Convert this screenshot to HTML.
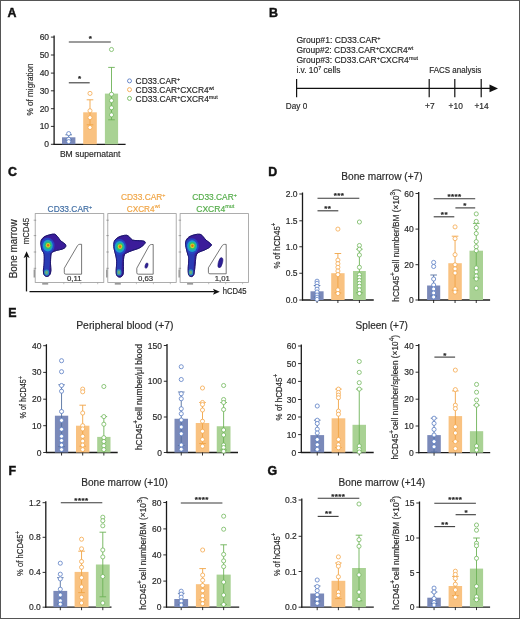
<!DOCTYPE html><html><head><meta charset="utf-8"><style>html,body{margin:0;padding:0;background:#fff;}svg{display:block;will-change:transform;}</style></head><body><svg width="520" height="619" viewBox="0 0 520 619" font-family='"Liberation Sans", sans-serif'>
<rect x="0" y="0" width="520" height="619" fill="#fff"/>
<text x="7.40" y="17.20" font-size="12.4" text-anchor="start" fill="#111" font-weight="bold" stroke="#111" stroke-width="0.45">A</text>
<text x="269.00" y="17.40" font-size="12.4" text-anchor="start" fill="#111" font-weight="bold" stroke="#111" stroke-width="0.45">B</text>
<text x="8.00" y="175.80" font-size="12.4" text-anchor="start" fill="#111" font-weight="bold" stroke="#111" stroke-width="0.45">C</text>
<text x="268.30" y="175.90" font-size="12.4" text-anchor="start" fill="#111" font-weight="bold" stroke="#111" stroke-width="0.45">D</text>
<text x="8.20" y="317.30" font-size="12.4" text-anchor="start" fill="#111" font-weight="bold" stroke="#111" stroke-width="0.45">E</text>
<text x="8.60" y="474.60" font-size="12.4" text-anchor="start" fill="#111" font-weight="bold" stroke="#111" stroke-width="0.45">F</text>
<text x="267.60" y="474.90" font-size="12.4" text-anchor="start" fill="#111" font-weight="bold" stroke="#111" stroke-width="0.45">G</text>
<line x1="54.10" y1="35.60" x2="54.10" y2="144.80" stroke="#1a1a1a" stroke-width="1.3"/>
<line x1="53.60" y1="144.30" x2="125.60" y2="144.30" stroke="#1a1a1a" stroke-width="1.3"/>
<line x1="50.90" y1="37.10" x2="54.10" y2="37.10" stroke="#1a1a1a" stroke-width="0.9"/>
<text x="49.10" y="40.15" font-size="8.5" text-anchor="end" fill="#2a2a2a" font-weight="normal" stroke="#2a2a2a" stroke-width="0.18" >60</text>
<line x1="50.90" y1="55.00" x2="54.10" y2="55.00" stroke="#1a1a1a" stroke-width="0.9"/>
<text x="49.10" y="58.05" font-size="8.5" text-anchor="end" fill="#2a2a2a" font-weight="normal" stroke="#2a2a2a" stroke-width="0.18" >50</text>
<line x1="50.90" y1="73.10" x2="54.10" y2="73.10" stroke="#1a1a1a" stroke-width="0.9"/>
<text x="49.10" y="76.15" font-size="8.5" text-anchor="end" fill="#2a2a2a" font-weight="normal" stroke="#2a2a2a" stroke-width="0.18" >40</text>
<line x1="50.90" y1="90.80" x2="54.10" y2="90.80" stroke="#1a1a1a" stroke-width="0.9"/>
<text x="49.10" y="93.85" font-size="8.5" text-anchor="end" fill="#2a2a2a" font-weight="normal" stroke="#2a2a2a" stroke-width="0.18" >30</text>
<line x1="50.90" y1="108.70" x2="54.10" y2="108.70" stroke="#1a1a1a" stroke-width="0.9"/>
<text x="49.10" y="111.75" font-size="8.5" text-anchor="end" fill="#2a2a2a" font-weight="normal" stroke="#2a2a2a" stroke-width="0.18" >20</text>
<line x1="50.90" y1="126.40" x2="54.10" y2="126.40" stroke="#1a1a1a" stroke-width="0.9"/>
<text x="49.10" y="129.45" font-size="8.5" text-anchor="end" fill="#2a2a2a" font-weight="normal" stroke="#2a2a2a" stroke-width="0.18" >10</text>
<line x1="50.90" y1="144.30" x2="54.10" y2="144.30" stroke="#1a1a1a" stroke-width="0.9"/>
<text x="49.10" y="147.35" font-size="8.5" text-anchor="end" fill="#2a2a2a" font-weight="normal" stroke="#2a2a2a" stroke-width="0.18" >0</text>
<rect x="62.00" y="137.30" width="13.40" height="7.00" fill="#7a89b9"/>
<line x1="68.70" y1="134.80" x2="68.70" y2="139.80" stroke="#55719f" stroke-width="0.9"/>
<line x1="65.40" y1="134.80" x2="72.00" y2="134.80" stroke="#55719f" stroke-width="0.9"/>
<line x1="65.40" y1="139.80" x2="72.00" y2="139.80" stroke="#55719f" stroke-width="0.9"/>
<circle cx="68.70" cy="133.60" r="2.05" fill="#fff" stroke="#5b7dc4" stroke-width="0.8"/>
<circle cx="68.70" cy="139.20" r="2.05" fill="#fff" stroke="#5b7dc4" stroke-width="0.8"/>
<circle cx="68.70" cy="141.60" r="2.05" fill="#fff" stroke="#5b7dc4" stroke-width="0.8"/>
<rect x="83.20" y="112.30" width="13.60" height="32.00" fill="#f9c281"/>
<line x1="90.00" y1="99.80" x2="90.00" y2="124.80" stroke="#f0a445" stroke-width="0.9"/>
<line x1="86.70" y1="99.80" x2="93.30" y2="99.80" stroke="#f0a445" stroke-width="0.9"/>
<line x1="86.70" y1="124.80" x2="93.30" y2="124.80" stroke="#f0a445" stroke-width="0.9"/>
<circle cx="90.00" cy="93.40" r="2.05" fill="#fff" stroke="#f5a84d" stroke-width="0.8"/>
<circle cx="90.00" cy="110.80" r="2.05" fill="#fff" stroke="#f5a84d" stroke-width="0.8"/>
<circle cx="90.00" cy="117.60" r="2.05" fill="#fff" stroke="#f5a84d" stroke-width="0.8"/>
<circle cx="90.00" cy="127.50" r="2.05" fill="#fff" stroke="#f5a84d" stroke-width="0.8"/>
<rect x="104.90" y="93.60" width="13.20" height="50.70" fill="#a9d294"/>
<line x1="111.50" y1="67.40" x2="111.50" y2="119.80" stroke="#6db257" stroke-width="0.9"/>
<line x1="108.20" y1="67.40" x2="114.80" y2="67.40" stroke="#6db257" stroke-width="0.9"/>
<line x1="108.20" y1="119.80" x2="114.80" y2="119.80" stroke="#6db257" stroke-width="0.9"/>
<circle cx="111.50" cy="49.50" r="2.05" fill="#fff" stroke="#72b85d" stroke-width="0.8"/>
<circle cx="111.50" cy="94.20" r="2.05" fill="#fff" stroke="#72b85d" stroke-width="0.8"/>
<circle cx="111.50" cy="100.60" r="2.05" fill="#fff" stroke="#72b85d" stroke-width="0.8"/>
<circle cx="111.50" cy="107.80" r="2.05" fill="#fff" stroke="#72b85d" stroke-width="0.8"/>
<circle cx="111.50" cy="114.90" r="2.05" fill="#fff" stroke="#72b85d" stroke-width="0.8"/>
<line x1="68.80" y1="42.00" x2="110.80" y2="42.00" stroke="#3a3a3a" stroke-width="1.1"/>
<text x="90.30" y="41.00" font-size="8.0" text-anchor="middle" fill="#222" font-weight="bold" stroke="#222" stroke-width="0.18" >*</text>
<line x1="68.80" y1="82.80" x2="89.70" y2="82.80" stroke="#3a3a3a" stroke-width="1.1"/>
<text x="79.50" y="81.30" font-size="8.0" text-anchor="middle" fill="#222" font-weight="bold" stroke="#222" stroke-width="0.18" >*</text>
<text transform="translate(32.50,89.50) rotate(-90)" x="0" y="0" font-size="9.4" text-anchor="middle" fill="#2a2a2a" stroke="#2a2a2a" stroke-width="0.18" textLength="52.2" lengthAdjust="spacingAndGlyphs">% of migration</text>
<text x="59.90" y="156.80" font-size="9.4" text-anchor="start" fill="#2a2a2a" font-weight="normal" textLength="60.5" lengthAdjust="spacingAndGlyphs" stroke="#2a2a2a" stroke-width="0.18" >BM supernatant</text>
<circle cx="129.5" cy="80.90" r="2" fill="#fff" stroke="#5b7dc4" stroke-width="0.9"/>
<text x="135.60" y="84.10" font-size="9.0" text-anchor="start" fill="#2a2a2a" font-weight="normal" textLength="44.6" lengthAdjust="spacingAndGlyphs" stroke="#2a2a2a" stroke-width="0.18" >CD33.CAR<tspan font-size="5.76" dy="-2.97">+</tspan></text>
<circle cx="129.5" cy="89.65" r="2" fill="#fff" stroke="#f5a84d" stroke-width="0.9"/>
<text x="135.60" y="92.85" font-size="9.0" text-anchor="start" fill="#2a2a2a" font-weight="normal" textLength="78.4" lengthAdjust="spacingAndGlyphs" stroke="#2a2a2a" stroke-width="0.18" >CD33.CAR<tspan font-size="5.76" dy="-2.97">+</tspan><tspan dy="2.97">CXCR4</tspan><tspan font-size="5.76" dy="-2.97">wt</tspan></text>
<circle cx="129.5" cy="98.40" r="2" fill="#fff" stroke="#72b85d" stroke-width="0.9"/>
<text x="135.60" y="101.60" font-size="9.0" text-anchor="start" fill="#2a2a2a" font-weight="normal" textLength="82.2" lengthAdjust="spacingAndGlyphs" stroke="#2a2a2a" stroke-width="0.18" >CD33.CAR<tspan font-size="5.76" dy="-2.97">+</tspan><tspan dy="2.97">CXCR4</tspan><tspan font-size="5.76" dy="-2.97">mut</tspan></text>
<text x="296.40" y="42.80" font-size="9.1" text-anchor="start" fill="#2a2a2a" font-weight="normal" textLength="84.2" lengthAdjust="spacingAndGlyphs" stroke="#2a2a2a" stroke-width="0.18" >Group#1: CD33.CAR<tspan font-size="5.82" dy="-3.00">+</tspan></text>
<text x="296.40" y="52.70" font-size="9.1" text-anchor="start" fill="#2a2a2a" font-weight="normal" textLength="116.8" lengthAdjust="spacingAndGlyphs" stroke="#2a2a2a" stroke-width="0.18" >Group#2: CD33.CAR<tspan font-size="5.82" dy="-3.00">+</tspan><tspan dy="3.00">CXCR4</tspan><tspan font-size="5.82" dy="-3.00">wt</tspan></text>
<text x="296.40" y="62.70" font-size="9.1" text-anchor="start" fill="#2a2a2a" font-weight="normal" textLength="121.6" lengthAdjust="spacingAndGlyphs" stroke="#2a2a2a" stroke-width="0.18" >Group#3: CD33.CAR<tspan font-size="5.82" dy="-3.00">+</tspan><tspan dy="3.00">CXCR4</tspan><tspan font-size="5.82" dy="-3.00">mut</tspan></text>
<text x="296.40" y="72.60" font-size="9.1" text-anchor="start" fill="#2a2a2a" font-weight="normal" textLength="44.0" lengthAdjust="spacingAndGlyphs" stroke="#2a2a2a" stroke-width="0.18" >i.v. 10<tspan font-size="5.82" dy="-3.00">7</tspan><tspan dy="3.00"> cells</tspan></text>
<text x="429.20" y="73.30" font-size="9.0" text-anchor="start" fill="#2a2a2a" font-weight="normal" textLength="52" lengthAdjust="spacingAndGlyphs" stroke="#2a2a2a" stroke-width="0.18" >FACS analysis</text>
<line x1="296.60" y1="88.40" x2="493.00" y2="88.40" stroke="#111" stroke-width="1.2"/>
<path d="M489.5,84.6 L498,88.4 L489.5,92.2 Z" fill="#111"/>
<line x1="296.60" y1="79.00" x2="296.60" y2="97.30" stroke="#111" stroke-width="1.2"/>
<line x1="429.20" y1="79.00" x2="429.20" y2="97.30" stroke="#111" stroke-width="1.2"/>
<line x1="454.80" y1="79.00" x2="454.80" y2="97.30" stroke="#111" stroke-width="1.2"/>
<line x1="481.20" y1="79.00" x2="481.20" y2="97.30" stroke="#111" stroke-width="1.2"/>
<text x="285.80" y="108.90" font-size="8.4" text-anchor="start" fill="#2a2a2a" font-weight="normal" textLength="21.4" lengthAdjust="spacingAndGlyphs" stroke="#2a2a2a" stroke-width="0.18" >Day 0</text>
<text x="429.80" y="108.60" font-size="8.4" text-anchor="middle" fill="#2a2a2a" font-weight="normal" stroke="#2a2a2a" stroke-width="0.18" >+7</text>
<text x="455.70" y="108.60" font-size="8.4" text-anchor="middle" fill="#2a2a2a" font-weight="normal" stroke="#2a2a2a" stroke-width="0.18" >+10</text>
<text x="481.50" y="108.60" font-size="8.4" text-anchor="middle" fill="#2a2a2a" font-weight="normal" stroke="#2a2a2a" stroke-width="0.18" >+14</text>
<text x="341.30" y="180.00" font-size="10.5" text-anchor="start" fill="#2a2a2a" font-weight="normal" textLength="81.3" lengthAdjust="spacingAndGlyphs" stroke="#2a2a2a" stroke-width="0.18" >Bone marrow (+7)</text>
<line x1="302.50" y1="192.50" x2="302.50" y2="300.50" stroke="#1a1a1a" stroke-width="1.3"/>
<line x1="302.00" y1="300.00" x2="373.75" y2="300.00" stroke="#1a1a1a" stroke-width="1.3"/>
<line x1="299.30" y1="194.00" x2="302.50" y2="194.00" stroke="#1a1a1a" stroke-width="0.9"/>
<text x="297.50" y="197.05" font-size="8.5" text-anchor="end" fill="#2a2a2a" font-weight="normal" stroke="#2a2a2a" stroke-width="0.18" >2.0</text>
<line x1="299.30" y1="220.80" x2="302.50" y2="220.80" stroke="#1a1a1a" stroke-width="0.9"/>
<text x="297.50" y="223.85" font-size="8.5" text-anchor="end" fill="#2a2a2a" font-weight="normal" stroke="#2a2a2a" stroke-width="0.18" >1.5</text>
<line x1="299.30" y1="246.75" x2="302.50" y2="246.75" stroke="#1a1a1a" stroke-width="0.9"/>
<text x="297.50" y="249.80" font-size="8.5" text-anchor="end" fill="#2a2a2a" font-weight="normal" stroke="#2a2a2a" stroke-width="0.18" >1.0</text>
<line x1="299.30" y1="273.25" x2="302.50" y2="273.25" stroke="#1a1a1a" stroke-width="0.9"/>
<text x="297.50" y="276.30" font-size="8.5" text-anchor="end" fill="#2a2a2a" font-weight="normal" stroke="#2a2a2a" stroke-width="0.18" >0.5</text>
<line x1="299.30" y1="300.00" x2="302.50" y2="300.00" stroke="#1a1a1a" stroke-width="0.9"/>
<text x="297.50" y="303.05" font-size="8.5" text-anchor="end" fill="#2a2a2a" font-weight="normal" stroke="#2a2a2a" stroke-width="0.18" >0.0</text>
<rect x="310.50" y="291.30" width="13.10" height="8.70" fill="#7a89b9"/>
<line x1="317.05" y1="300.00" x2="317.05" y2="303.00" stroke="#1a1a1a" stroke-width="0.9"/>
<line x1="317.05" y1="285.50" x2="317.05" y2="297.10" stroke="#55719f" stroke-width="0.9"/>
<line x1="313.75" y1="285.50" x2="320.35" y2="285.50" stroke="#55719f" stroke-width="0.9"/>
<line x1="313.75" y1="297.10" x2="320.35" y2="297.10" stroke="#55719f" stroke-width="0.9"/>
<circle cx="317.05" cy="281.20" r="2.05" fill="#fff" stroke="#5b7dc4" stroke-width="0.8"/>
<circle cx="317.05" cy="283.30" r="2.05" fill="#fff" stroke="#5b7dc4" stroke-width="0.8"/>
<circle cx="317.05" cy="286.30" r="2.05" fill="#fff" stroke="#5b7dc4" stroke-width="0.8"/>
<circle cx="317.05" cy="289.20" r="2.05" fill="#fff" stroke="#5b7dc4" stroke-width="0.8"/>
<circle cx="317.05" cy="292.00" r="2.05" fill="#fff" stroke="#5b7dc4" stroke-width="0.8"/>
<circle cx="317.05" cy="295.00" r="2.05" fill="#fff" stroke="#5b7dc4" stroke-width="0.8"/>
<circle cx="317.05" cy="297.20" r="2.05" fill="#fff" stroke="#5b7dc4" stroke-width="0.8"/>
<circle cx="317.05" cy="299.30" r="2.05" fill="#fff" stroke="#5b7dc4" stroke-width="0.8"/>
<rect x="331.20" y="273.20" width="13.40" height="26.80" fill="#f9c281"/>
<line x1="337.90" y1="300.00" x2="337.90" y2="303.00" stroke="#1a1a1a" stroke-width="0.9"/>
<line x1="337.90" y1="253.50" x2="337.90" y2="292.90" stroke="#f0a445" stroke-width="0.9"/>
<line x1="334.60" y1="253.50" x2="341.20" y2="253.50" stroke="#f0a445" stroke-width="0.9"/>
<line x1="334.60" y1="292.90" x2="341.20" y2="292.90" stroke="#f0a445" stroke-width="0.9"/>
<circle cx="337.90" cy="229.10" r="2.05" fill="#fff" stroke="#f5a84d" stroke-width="0.8"/>
<circle cx="337.90" cy="260.10" r="2.05" fill="#fff" stroke="#f5a84d" stroke-width="0.8"/>
<circle cx="337.90" cy="263.70" r="2.05" fill="#fff" stroke="#f5a84d" stroke-width="0.8"/>
<circle cx="337.90" cy="267.30" r="2.05" fill="#fff" stroke="#f5a84d" stroke-width="0.8"/>
<circle cx="337.90" cy="271.00" r="2.05" fill="#fff" stroke="#f5a84d" stroke-width="0.8"/>
<circle cx="337.90" cy="274.60" r="2.05" fill="#fff" stroke="#f5a84d" stroke-width="0.8"/>
<circle cx="337.90" cy="289.90" r="2.05" fill="#fff" stroke="#f5a84d" stroke-width="0.8"/>
<circle cx="337.90" cy="293.50" r="2.05" fill="#fff" stroke="#f5a84d" stroke-width="0.8"/>
<rect x="353.00" y="271.00" width="12.80" height="29.00" fill="#a9d294"/>
<line x1="359.40" y1="300.00" x2="359.40" y2="303.00" stroke="#1a1a1a" stroke-width="0.9"/>
<line x1="359.40" y1="249.20" x2="359.40" y2="292.80" stroke="#6db257" stroke-width="0.9"/>
<line x1="356.10" y1="249.20" x2="362.70" y2="249.20" stroke="#6db257" stroke-width="0.9"/>
<line x1="356.10" y1="292.80" x2="362.70" y2="292.80" stroke="#6db257" stroke-width="0.9"/>
<circle cx="359.40" cy="222.00" r="2.05" fill="#fff" stroke="#72b85d" stroke-width="0.8"/>
<circle cx="359.40" cy="245.50" r="2.05" fill="#fff" stroke="#72b85d" stroke-width="0.8"/>
<circle cx="359.40" cy="249.20" r="2.05" fill="#fff" stroke="#72b85d" stroke-width="0.8"/>
<circle cx="359.40" cy="255.00" r="2.05" fill="#fff" stroke="#72b85d" stroke-width="0.8"/>
<circle cx="359.40" cy="267.30" r="2.05" fill="#fff" stroke="#72b85d" stroke-width="0.8"/>
<circle cx="359.40" cy="274.60" r="2.05" fill="#fff" stroke="#72b85d" stroke-width="0.8"/>
<circle cx="359.40" cy="277.50" r="2.05" fill="#fff" stroke="#72b85d" stroke-width="0.8"/>
<circle cx="359.40" cy="280.40" r="2.05" fill="#fff" stroke="#72b85d" stroke-width="0.8"/>
<circle cx="359.40" cy="283.30" r="2.05" fill="#fff" stroke="#72b85d" stroke-width="0.8"/>
<circle cx="359.40" cy="286.30" r="2.05" fill="#fff" stroke="#72b85d" stroke-width="0.8"/>
<circle cx="359.40" cy="289.90" r="2.05" fill="#fff" stroke="#72b85d" stroke-width="0.8"/>
<circle cx="359.40" cy="293.50" r="2.05" fill="#fff" stroke="#72b85d" stroke-width="0.8"/>
<line x1="317.50" y1="198.30" x2="359.30" y2="198.30" stroke="#3a3a3a" stroke-width="1.1"/>
<text x="335.25" y="198.20" font-size="8.0" text-anchor="middle" fill="#222" font-weight="bold" stroke="#222" stroke-width="0.18" >*</text>
<text x="338.80" y="198.20" font-size="8.0" text-anchor="middle" fill="#222" font-weight="bold" stroke="#222" stroke-width="0.18" >*</text>
<text x="342.35" y="198.20" font-size="8.0" text-anchor="middle" fill="#222" font-weight="bold" stroke="#222" stroke-width="0.18" >*</text>
<line x1="317.50" y1="210.80" x2="338.30" y2="210.80" stroke="#3a3a3a" stroke-width="1.1"/>
<text x="325.73" y="210.70" font-size="8.0" text-anchor="middle" fill="#222" font-weight="bold" stroke="#222" stroke-width="0.18" >*</text>
<text x="329.27" y="210.70" font-size="8.0" text-anchor="middle" fill="#222" font-weight="bold" stroke="#222" stroke-width="0.18" >*</text>
<text transform="translate(280.00,245.60) rotate(-90)" x="0" y="0" font-size="9.2" text-anchor="middle" fill="#2a2a2a" stroke="#2a2a2a" stroke-width="0.18" textLength="46.0" lengthAdjust="spacingAndGlyphs">% of hCD45<tspan font-size="7.18" dy="-3.68">+</tspan></text>
<line x1="418.70" y1="192.00" x2="418.70" y2="300.50" stroke="#1a1a1a" stroke-width="1.3"/>
<line x1="418.20" y1="300.00" x2="490.10" y2="300.00" stroke="#1a1a1a" stroke-width="1.3"/>
<line x1="415.50" y1="193.50" x2="418.70" y2="193.50" stroke="#1a1a1a" stroke-width="0.9"/>
<text x="413.70" y="196.55" font-size="8.5" text-anchor="end" fill="#2a2a2a" font-weight="normal" stroke="#2a2a2a" stroke-width="0.18" >60</text>
<line x1="415.50" y1="229.10" x2="418.70" y2="229.10" stroke="#1a1a1a" stroke-width="0.9"/>
<text x="413.70" y="232.15" font-size="8.5" text-anchor="end" fill="#2a2a2a" font-weight="normal" stroke="#2a2a2a" stroke-width="0.18" >40</text>
<line x1="415.50" y1="264.70" x2="418.70" y2="264.70" stroke="#1a1a1a" stroke-width="0.9"/>
<text x="413.70" y="267.75" font-size="8.5" text-anchor="end" fill="#2a2a2a" font-weight="normal" stroke="#2a2a2a" stroke-width="0.18" >20</text>
<line x1="415.50" y1="300.00" x2="418.70" y2="300.00" stroke="#1a1a1a" stroke-width="0.9"/>
<text x="413.70" y="303.05" font-size="8.5" text-anchor="end" fill="#2a2a2a" font-weight="normal" stroke="#2a2a2a" stroke-width="0.18" >0</text>
<rect x="427.10" y="285.50" width="13.10" height="14.50" fill="#7a89b9"/>
<line x1="433.65" y1="300.00" x2="433.65" y2="303.00" stroke="#1a1a1a" stroke-width="0.9"/>
<line x1="433.65" y1="275.00" x2="433.65" y2="296.00" stroke="#55719f" stroke-width="0.9"/>
<line x1="430.35" y1="275.00" x2="436.95" y2="275.00" stroke="#55719f" stroke-width="0.9"/>
<line x1="430.35" y1="296.00" x2="436.95" y2="296.00" stroke="#55719f" stroke-width="0.9"/>
<circle cx="433.65" cy="262.40" r="2.05" fill="#fff" stroke="#5b7dc4" stroke-width="0.8"/>
<circle cx="433.65" cy="266.50" r="2.05" fill="#fff" stroke="#5b7dc4" stroke-width="0.8"/>
<circle cx="433.65" cy="279.00" r="2.05" fill="#fff" stroke="#5b7dc4" stroke-width="0.8"/>
<circle cx="433.65" cy="285.00" r="2.05" fill="#fff" stroke="#5b7dc4" stroke-width="0.8"/>
<circle cx="433.65" cy="289.00" r="2.05" fill="#fff" stroke="#5b7dc4" stroke-width="0.8"/>
<circle cx="433.65" cy="293.00" r="2.05" fill="#fff" stroke="#5b7dc4" stroke-width="0.8"/>
<circle cx="433.65" cy="297.00" r="2.05" fill="#fff" stroke="#5b7dc4" stroke-width="0.8"/>
<rect x="448.30" y="263.20" width="13.50" height="36.80" fill="#f9c281"/>
<line x1="455.05" y1="300.00" x2="455.05" y2="303.00" stroke="#1a1a1a" stroke-width="0.9"/>
<line x1="455.05" y1="236.20" x2="455.05" y2="290.20" stroke="#f0a445" stroke-width="0.9"/>
<line x1="451.75" y1="236.20" x2="458.35" y2="236.20" stroke="#f0a445" stroke-width="0.9"/>
<line x1="451.75" y1="290.20" x2="458.35" y2="290.20" stroke="#f0a445" stroke-width="0.9"/>
<circle cx="455.05" cy="226.90" r="2.05" fill="#fff" stroke="#f5a84d" stroke-width="0.8"/>
<circle cx="455.05" cy="238.60" r="2.05" fill="#fff" stroke="#f5a84d" stroke-width="0.8"/>
<circle cx="455.05" cy="254.70" r="2.05" fill="#fff" stroke="#f5a84d" stroke-width="0.8"/>
<circle cx="455.05" cy="264.80" r="2.05" fill="#fff" stroke="#f5a84d" stroke-width="0.8"/>
<circle cx="455.05" cy="268.90" r="2.05" fill="#fff" stroke="#f5a84d" stroke-width="0.8"/>
<circle cx="455.05" cy="273.00" r="2.05" fill="#fff" stroke="#f5a84d" stroke-width="0.8"/>
<circle cx="455.05" cy="289.00" r="2.05" fill="#fff" stroke="#f5a84d" stroke-width="0.8"/>
<circle cx="455.05" cy="292.10" r="2.05" fill="#fff" stroke="#f5a84d" stroke-width="0.8"/>
<rect x="469.50" y="250.70" width="13.50" height="49.30" fill="#a9d294"/>
<line x1="476.25" y1="300.00" x2="476.25" y2="303.00" stroke="#1a1a1a" stroke-width="0.9"/>
<line x1="476.25" y1="223.40" x2="476.25" y2="278.00" stroke="#6db257" stroke-width="0.9"/>
<line x1="472.95" y1="223.40" x2="479.55" y2="223.40" stroke="#6db257" stroke-width="0.9"/>
<line x1="472.95" y1="278.00" x2="479.55" y2="278.00" stroke="#6db257" stroke-width="0.9"/>
<circle cx="476.25" cy="213.90" r="2.05" fill="#fff" stroke="#72b85d" stroke-width="0.8"/>
<circle cx="476.25" cy="221.40" r="2.05" fill="#fff" stroke="#72b85d" stroke-width="0.8"/>
<circle cx="476.25" cy="227.50" r="2.05" fill="#fff" stroke="#72b85d" stroke-width="0.8"/>
<circle cx="476.25" cy="233.50" r="2.05" fill="#fff" stroke="#72b85d" stroke-width="0.8"/>
<circle cx="476.25" cy="241.60" r="2.05" fill="#fff" stroke="#72b85d" stroke-width="0.8"/>
<circle cx="476.25" cy="246.70" r="2.05" fill="#fff" stroke="#72b85d" stroke-width="0.8"/>
<circle cx="476.25" cy="250.70" r="2.05" fill="#fff" stroke="#72b85d" stroke-width="0.8"/>
<circle cx="476.25" cy="267.90" r="2.05" fill="#fff" stroke="#72b85d" stroke-width="0.8"/>
<circle cx="476.25" cy="271.90" r="2.05" fill="#fff" stroke="#72b85d" stroke-width="0.8"/>
<circle cx="476.25" cy="276.00" r="2.05" fill="#fff" stroke="#72b85d" stroke-width="0.8"/>
<circle cx="476.25" cy="279.00" r="2.05" fill="#fff" stroke="#72b85d" stroke-width="0.8"/>
<circle cx="476.25" cy="288.10" r="2.05" fill="#fff" stroke="#72b85d" stroke-width="0.8"/>
<line x1="433.70" y1="198.80" x2="475.20" y2="198.80" stroke="#3a3a3a" stroke-width="1.1"/>
<text x="448.98" y="198.90" font-size="8.0" text-anchor="middle" fill="#222" font-weight="bold" stroke="#222" stroke-width="0.18" >*</text>
<text x="452.53" y="198.90" font-size="8.0" text-anchor="middle" fill="#222" font-weight="bold" stroke="#222" stroke-width="0.18" >*</text>
<text x="456.07" y="198.90" font-size="8.0" text-anchor="middle" fill="#222" font-weight="bold" stroke="#222" stroke-width="0.18" >*</text>
<text x="459.62" y="198.90" font-size="8.0" text-anchor="middle" fill="#222" font-weight="bold" stroke="#222" stroke-width="0.18" >*</text>
<line x1="455.40" y1="207.90" x2="475.20" y2="207.90" stroke="#3a3a3a" stroke-width="1.1"/>
<text x="464.80" y="208.00" font-size="8.0" text-anchor="middle" fill="#222" font-weight="bold" stroke="#222" stroke-width="0.18" >*</text>
<line x1="433.70" y1="216.80" x2="454.30" y2="216.80" stroke="#3a3a3a" stroke-width="1.1"/>
<text x="442.43" y="216.70" font-size="8.0" text-anchor="middle" fill="#222" font-weight="bold" stroke="#222" stroke-width="0.18" >*</text>
<text x="445.97" y="216.70" font-size="8.0" text-anchor="middle" fill="#222" font-weight="bold" stroke="#222" stroke-width="0.18" >*</text>
<text transform="translate(398.50,245.35) rotate(-90)" x="0" y="0" font-size="9.2" text-anchor="middle" fill="#2a2a2a" stroke="#2a2a2a" stroke-width="0.18" textLength="112.7" lengthAdjust="spacingAndGlyphs">hCD45<tspan font-size="7.18" dy="-3.68">+</tspan><tspan dy="3.68">cell number/BM (×10</tspan><tspan font-size="7.18" dy="-3.68">3</tspan><tspan dy="3.68">)</tspan></text>
<text x="76.20" y="328.80" font-size="10.5" text-anchor="start" fill="#2a2a2a" font-weight="normal" textLength="97.3" lengthAdjust="spacingAndGlyphs" stroke="#2a2a2a" stroke-width="0.18" >Peripheral blood (+7)</text>
<line x1="46.40" y1="344.20" x2="46.40" y2="453.00" stroke="#1a1a1a" stroke-width="1.3"/>
<line x1="45.90" y1="452.50" x2="117.70" y2="452.50" stroke="#1a1a1a" stroke-width="1.3"/>
<line x1="43.20" y1="345.70" x2="46.40" y2="345.70" stroke="#1a1a1a" stroke-width="0.9"/>
<text x="41.40" y="348.75" font-size="8.5" text-anchor="end" fill="#2a2a2a" font-weight="normal" stroke="#2a2a2a" stroke-width="0.18" >40</text>
<line x1="43.20" y1="372.40" x2="46.40" y2="372.40" stroke="#1a1a1a" stroke-width="0.9"/>
<text x="41.40" y="375.45" font-size="8.5" text-anchor="end" fill="#2a2a2a" font-weight="normal" stroke="#2a2a2a" stroke-width="0.18" >30</text>
<line x1="43.20" y1="399.20" x2="46.40" y2="399.20" stroke="#1a1a1a" stroke-width="0.9"/>
<text x="41.40" y="402.25" font-size="8.5" text-anchor="end" fill="#2a2a2a" font-weight="normal" stroke="#2a2a2a" stroke-width="0.18" >20</text>
<line x1="43.20" y1="425.70" x2="46.40" y2="425.70" stroke="#1a1a1a" stroke-width="0.9"/>
<text x="41.40" y="428.75" font-size="8.5" text-anchor="end" fill="#2a2a2a" font-weight="normal" stroke="#2a2a2a" stroke-width="0.18" >10</text>
<line x1="43.20" y1="452.50" x2="46.40" y2="452.50" stroke="#1a1a1a" stroke-width="0.9"/>
<text x="41.40" y="455.55" font-size="8.5" text-anchor="end" fill="#2a2a2a" font-weight="normal" stroke="#2a2a2a" stroke-width="0.18" >0</text>
<rect x="54.90" y="415.70" width="13.30" height="36.80" fill="#7a89b9"/>
<line x1="61.55" y1="452.50" x2="61.55" y2="455.50" stroke="#1a1a1a" stroke-width="0.9"/>
<line x1="61.55" y1="384.80" x2="61.55" y2="446.60" stroke="#55719f" stroke-width="0.9"/>
<line x1="58.25" y1="384.80" x2="64.85" y2="384.80" stroke="#55719f" stroke-width="0.9"/>
<line x1="58.25" y1="446.60" x2="64.85" y2="446.60" stroke="#55719f" stroke-width="0.9"/>
<circle cx="61.55" cy="360.70" r="2.05" fill="#fff" stroke="#5b7dc4" stroke-width="0.8"/>
<circle cx="61.55" cy="371.70" r="2.05" fill="#fff" stroke="#5b7dc4" stroke-width="0.8"/>
<circle cx="61.55" cy="385.50" r="2.05" fill="#fff" stroke="#5b7dc4" stroke-width="0.8"/>
<circle cx="61.55" cy="391.20" r="2.05" fill="#fff" stroke="#5b7dc4" stroke-width="0.8"/>
<circle cx="61.55" cy="411.50" r="2.05" fill="#fff" stroke="#5b7dc4" stroke-width="0.8"/>
<circle cx="61.55" cy="420.40" r="2.05" fill="#fff" stroke="#5b7dc4" stroke-width="0.8"/>
<circle cx="61.55" cy="429.30" r="2.05" fill="#fff" stroke="#5b7dc4" stroke-width="0.8"/>
<circle cx="61.55" cy="436.30" r="2.05" fill="#fff" stroke="#5b7dc4" stroke-width="0.8"/>
<circle cx="61.55" cy="440.50" r="2.05" fill="#fff" stroke="#5b7dc4" stroke-width="0.8"/>
<circle cx="61.55" cy="445.10" r="2.05" fill="#fff" stroke="#5b7dc4" stroke-width="0.8"/>
<circle cx="61.55" cy="449.60" r="2.05" fill="#fff" stroke="#5b7dc4" stroke-width="0.8"/>
<rect x="76.00" y="425.70" width="13.40" height="26.80" fill="#f9c281"/>
<line x1="82.70" y1="452.50" x2="82.70" y2="455.50" stroke="#1a1a1a" stroke-width="0.9"/>
<line x1="82.70" y1="405.20" x2="82.70" y2="446.20" stroke="#f0a445" stroke-width="0.9"/>
<line x1="79.40" y1="405.20" x2="86.00" y2="405.20" stroke="#f0a445" stroke-width="0.9"/>
<line x1="79.40" y1="446.20" x2="86.00" y2="446.20" stroke="#f0a445" stroke-width="0.9"/>
<circle cx="82.70" cy="389.10" r="2.05" fill="#fff" stroke="#f5a84d" stroke-width="0.8"/>
<circle cx="82.70" cy="391.80" r="2.05" fill="#fff" stroke="#f5a84d" stroke-width="0.8"/>
<circle cx="82.70" cy="413.00" r="2.05" fill="#fff" stroke="#f5a84d" stroke-width="0.8"/>
<circle cx="82.70" cy="425.70" r="2.05" fill="#fff" stroke="#f5a84d" stroke-width="0.8"/>
<circle cx="82.70" cy="428.90" r="2.05" fill="#fff" stroke="#f5a84d" stroke-width="0.8"/>
<circle cx="82.70" cy="436.30" r="2.05" fill="#fff" stroke="#f5a84d" stroke-width="0.8"/>
<circle cx="82.70" cy="441.10" r="2.05" fill="#fff" stroke="#f5a84d" stroke-width="0.8"/>
<circle cx="82.70" cy="445.10" r="2.05" fill="#fff" stroke="#f5a84d" stroke-width="0.8"/>
<circle cx="82.70" cy="449.60" r="2.05" fill="#fff" stroke="#f5a84d" stroke-width="0.8"/>
<rect x="97.20" y="436.90" width="13.30" height="15.60" fill="#a9d294"/>
<line x1="103.85" y1="452.50" x2="103.85" y2="455.50" stroke="#1a1a1a" stroke-width="0.9"/>
<line x1="103.85" y1="416.60" x2="103.85" y2="452.50" stroke="#6db257" stroke-width="0.9"/>
<line x1="100.55" y1="416.60" x2="107.15" y2="416.60" stroke="#6db257" stroke-width="0.9"/>
<circle cx="103.85" cy="386.50" r="2.05" fill="#fff" stroke="#72b85d" stroke-width="0.8"/>
<circle cx="103.85" cy="416.60" r="2.05" fill="#fff" stroke="#72b85d" stroke-width="0.8"/>
<circle cx="103.85" cy="424.20" r="2.05" fill="#fff" stroke="#72b85d" stroke-width="0.8"/>
<circle cx="103.85" cy="437.70" r="2.05" fill="#fff" stroke="#72b85d" stroke-width="0.8"/>
<circle cx="103.85" cy="441.50" r="2.05" fill="#fff" stroke="#72b85d" stroke-width="0.8"/>
<circle cx="103.85" cy="445.80" r="2.05" fill="#fff" stroke="#72b85d" stroke-width="0.8"/>
<circle cx="103.85" cy="449.60" r="2.05" fill="#fff" stroke="#72b85d" stroke-width="0.8"/>
<text transform="translate(26.30,397.20) rotate(-90)" x="0" y="0" font-size="9.2" text-anchor="middle" fill="#2a2a2a" stroke="#2a2a2a" stroke-width="0.18" textLength="42.6" lengthAdjust="spacingAndGlyphs">% of hCD45<tspan font-size="7.18" dy="-3.68">+</tspan></text>
<line x1="167.00" y1="344.00" x2="167.00" y2="453.00" stroke="#1a1a1a" stroke-width="1.3"/>
<line x1="166.50" y1="452.50" x2="238.00" y2="452.50" stroke="#1a1a1a" stroke-width="1.3"/>
<line x1="163.80" y1="345.50" x2="167.00" y2="345.50" stroke="#1a1a1a" stroke-width="0.9"/>
<text x="162.00" y="348.55" font-size="8.5" text-anchor="end" fill="#2a2a2a" font-weight="normal" stroke="#2a2a2a" stroke-width="0.18" >150</text>
<line x1="163.80" y1="381.25" x2="167.00" y2="381.25" stroke="#1a1a1a" stroke-width="0.9"/>
<text x="162.00" y="384.30" font-size="8.5" text-anchor="end" fill="#2a2a2a" font-weight="normal" stroke="#2a2a2a" stroke-width="0.18" >100</text>
<line x1="163.80" y1="417.00" x2="167.00" y2="417.00" stroke="#1a1a1a" stroke-width="0.9"/>
<text x="162.00" y="420.05" font-size="8.5" text-anchor="end" fill="#2a2a2a" font-weight="normal" stroke="#2a2a2a" stroke-width="0.18" >50</text>
<line x1="163.80" y1="452.50" x2="167.00" y2="452.50" stroke="#1a1a1a" stroke-width="0.9"/>
<text x="162.00" y="455.55" font-size="8.5" text-anchor="end" fill="#2a2a2a" font-weight="normal" stroke="#2a2a2a" stroke-width="0.18" >0</text>
<rect x="174.50" y="418.75" width="13.50" height="33.75" fill="#7a89b9"/>
<line x1="181.25" y1="452.50" x2="181.25" y2="455.50" stroke="#1a1a1a" stroke-width="0.9"/>
<line x1="181.25" y1="392.00" x2="181.25" y2="445.50" stroke="#55719f" stroke-width="0.9"/>
<line x1="177.95" y1="392.00" x2="184.55" y2="392.00" stroke="#55719f" stroke-width="0.9"/>
<line x1="177.95" y1="445.50" x2="184.55" y2="445.50" stroke="#55719f" stroke-width="0.9"/>
<circle cx="181.25" cy="366.75" r="2.05" fill="#fff" stroke="#5b7dc4" stroke-width="0.8"/>
<circle cx="181.25" cy="379.50" r="2.05" fill="#fff" stroke="#5b7dc4" stroke-width="0.8"/>
<circle cx="181.25" cy="393.75" r="2.05" fill="#fff" stroke="#5b7dc4" stroke-width="0.8"/>
<circle cx="181.25" cy="398.75" r="2.05" fill="#fff" stroke="#5b7dc4" stroke-width="0.8"/>
<circle cx="181.25" cy="408.75" r="2.05" fill="#fff" stroke="#5b7dc4" stroke-width="0.8"/>
<circle cx="181.25" cy="413.75" r="2.05" fill="#fff" stroke="#5b7dc4" stroke-width="0.8"/>
<circle cx="181.25" cy="420.00" r="2.05" fill="#fff" stroke="#5b7dc4" stroke-width="0.8"/>
<circle cx="181.25" cy="427.00" r="2.05" fill="#fff" stroke="#5b7dc4" stroke-width="0.8"/>
<circle cx="181.25" cy="433.75" r="2.05" fill="#fff" stroke="#5b7dc4" stroke-width="0.8"/>
<circle cx="181.25" cy="445.00" r="2.05" fill="#fff" stroke="#5b7dc4" stroke-width="0.8"/>
<circle cx="181.25" cy="449.25" r="2.05" fill="#fff" stroke="#5b7dc4" stroke-width="0.8"/>
<rect x="195.75" y="423.00" width="13.50" height="29.50" fill="#f9c281"/>
<line x1="202.50" y1="452.50" x2="202.50" y2="455.50" stroke="#1a1a1a" stroke-width="0.9"/>
<line x1="202.50" y1="402.50" x2="202.50" y2="443.50" stroke="#f0a445" stroke-width="0.9"/>
<line x1="199.20" y1="402.50" x2="205.80" y2="402.50" stroke="#f0a445" stroke-width="0.9"/>
<line x1="199.20" y1="443.50" x2="205.80" y2="443.50" stroke="#f0a445" stroke-width="0.9"/>
<circle cx="202.50" cy="388.00" r="2.05" fill="#fff" stroke="#f5a84d" stroke-width="0.8"/>
<circle cx="202.50" cy="402.50" r="2.05" fill="#fff" stroke="#f5a84d" stroke-width="0.8"/>
<circle cx="202.50" cy="404.50" r="2.05" fill="#fff" stroke="#f5a84d" stroke-width="0.8"/>
<circle cx="202.50" cy="410.00" r="2.05" fill="#fff" stroke="#f5a84d" stroke-width="0.8"/>
<circle cx="202.50" cy="421.25" r="2.05" fill="#fff" stroke="#f5a84d" stroke-width="0.8"/>
<circle cx="202.50" cy="431.25" r="2.05" fill="#fff" stroke="#f5a84d" stroke-width="0.8"/>
<circle cx="202.50" cy="439.50" r="2.05" fill="#fff" stroke="#f5a84d" stroke-width="0.8"/>
<circle cx="202.50" cy="446.25" r="2.05" fill="#fff" stroke="#f5a84d" stroke-width="0.8"/>
<rect x="216.75" y="426.25" width="13.75" height="26.25" fill="#a9d294"/>
<line x1="223.62" y1="452.50" x2="223.62" y2="455.50" stroke="#1a1a1a" stroke-width="0.9"/>
<line x1="223.62" y1="402.50" x2="223.62" y2="450.00" stroke="#6db257" stroke-width="0.9"/>
<line x1="220.32" y1="402.50" x2="226.93" y2="402.50" stroke="#6db257" stroke-width="0.9"/>
<line x1="220.32" y1="450.00" x2="226.93" y2="450.00" stroke="#6db257" stroke-width="0.9"/>
<circle cx="223.62" cy="385.50" r="2.05" fill="#fff" stroke="#72b85d" stroke-width="0.8"/>
<circle cx="223.62" cy="399.50" r="2.05" fill="#fff" stroke="#72b85d" stroke-width="0.8"/>
<circle cx="223.62" cy="402.50" r="2.05" fill="#fff" stroke="#72b85d" stroke-width="0.8"/>
<circle cx="223.62" cy="409.50" r="2.05" fill="#fff" stroke="#72b85d" stroke-width="0.8"/>
<circle cx="223.62" cy="430.00" r="2.05" fill="#fff" stroke="#72b85d" stroke-width="0.8"/>
<circle cx="223.62" cy="435.00" r="2.05" fill="#fff" stroke="#72b85d" stroke-width="0.8"/>
<circle cx="223.62" cy="445.00" r="2.05" fill="#fff" stroke="#72b85d" stroke-width="0.8"/>
<circle cx="223.62" cy="447.50" r="2.05" fill="#fff" stroke="#72b85d" stroke-width="0.8"/>
<circle cx="223.62" cy="451.25" r="2.05" fill="#fff" stroke="#72b85d" stroke-width="0.8"/>
<text transform="translate(141.80,397.10) rotate(-90)" x="0" y="0" font-size="9.2" text-anchor="middle" fill="#2a2a2a" stroke="#2a2a2a" stroke-width="0.18" textLength="106.0" lengthAdjust="spacingAndGlyphs">hCD45<tspan font-size="7.18" dy="-3.68">+</tspan><tspan dy="3.68">cell number/μl blood</tspan></text>
<text x="355.60" y="328.90" font-size="10.5" text-anchor="start" fill="#2a2a2a" font-weight="normal" textLength="52.3" lengthAdjust="spacingAndGlyphs" stroke="#2a2a2a" stroke-width="0.18" >Spleen (+7)</text>
<line x1="301.30" y1="344.50" x2="301.30" y2="453.00" stroke="#1a1a1a" stroke-width="1.3"/>
<line x1="300.80" y1="452.50" x2="373.70" y2="452.50" stroke="#1a1a1a" stroke-width="1.3"/>
<line x1="298.10" y1="346.00" x2="301.30" y2="346.00" stroke="#1a1a1a" stroke-width="0.9"/>
<text x="296.30" y="349.05" font-size="8.5" text-anchor="end" fill="#2a2a2a" font-weight="normal" stroke="#2a2a2a" stroke-width="0.18" >60</text>
<line x1="298.10" y1="363.60" x2="301.30" y2="363.60" stroke="#1a1a1a" stroke-width="0.9"/>
<text x="296.30" y="366.65" font-size="8.5" text-anchor="end" fill="#2a2a2a" font-weight="normal" stroke="#2a2a2a" stroke-width="0.18" >50</text>
<line x1="298.10" y1="381.40" x2="301.30" y2="381.40" stroke="#1a1a1a" stroke-width="0.9"/>
<text x="296.30" y="384.45" font-size="8.5" text-anchor="end" fill="#2a2a2a" font-weight="normal" stroke="#2a2a2a" stroke-width="0.18" >40</text>
<line x1="298.10" y1="399.50" x2="301.30" y2="399.50" stroke="#1a1a1a" stroke-width="0.9"/>
<text x="296.30" y="402.55" font-size="8.5" text-anchor="end" fill="#2a2a2a" font-weight="normal" stroke="#2a2a2a" stroke-width="0.18" >30</text>
<line x1="298.10" y1="417.00" x2="301.30" y2="417.00" stroke="#1a1a1a" stroke-width="0.9"/>
<text x="296.30" y="420.05" font-size="8.5" text-anchor="end" fill="#2a2a2a" font-weight="normal" stroke="#2a2a2a" stroke-width="0.18" >20</text>
<line x1="298.10" y1="434.60" x2="301.30" y2="434.60" stroke="#1a1a1a" stroke-width="0.9"/>
<text x="296.30" y="437.65" font-size="8.5" text-anchor="end" fill="#2a2a2a" font-weight="normal" stroke="#2a2a2a" stroke-width="0.18" >10</text>
<line x1="298.10" y1="452.50" x2="301.30" y2="452.50" stroke="#1a1a1a" stroke-width="0.9"/>
<text x="296.30" y="455.55" font-size="8.5" text-anchor="end" fill="#2a2a2a" font-weight="normal" stroke="#2a2a2a" stroke-width="0.18" >0</text>
<rect x="310.40" y="435.10" width="13.70" height="17.40" fill="#7a89b9"/>
<line x1="317.25" y1="452.50" x2="317.25" y2="455.50" stroke="#1a1a1a" stroke-width="0.9"/>
<line x1="317.25" y1="420.20" x2="317.25" y2="450.00" stroke="#55719f" stroke-width="0.9"/>
<line x1="313.95" y1="420.20" x2="320.55" y2="420.20" stroke="#55719f" stroke-width="0.9"/>
<line x1="313.95" y1="450.00" x2="320.55" y2="450.00" stroke="#55719f" stroke-width="0.9"/>
<circle cx="317.25" cy="406.00" r="2.05" fill="#fff" stroke="#5b7dc4" stroke-width="0.8"/>
<circle cx="317.25" cy="420.20" r="2.05" fill="#fff" stroke="#5b7dc4" stroke-width="0.8"/>
<circle cx="317.25" cy="423.50" r="2.05" fill="#fff" stroke="#5b7dc4" stroke-width="0.8"/>
<circle cx="317.25" cy="429.20" r="2.05" fill="#fff" stroke="#5b7dc4" stroke-width="0.8"/>
<circle cx="317.25" cy="433.00" r="2.05" fill="#fff" stroke="#5b7dc4" stroke-width="0.8"/>
<circle cx="317.25" cy="439.50" r="2.05" fill="#fff" stroke="#5b7dc4" stroke-width="0.8"/>
<circle cx="317.25" cy="444.70" r="2.05" fill="#fff" stroke="#5b7dc4" stroke-width="0.8"/>
<circle cx="317.25" cy="449.40" r="2.05" fill="#fff" stroke="#5b7dc4" stroke-width="0.8"/>
<rect x="331.60" y="418.30" width="13.70" height="34.20" fill="#f9c281"/>
<line x1="338.45" y1="452.50" x2="338.45" y2="455.50" stroke="#1a1a1a" stroke-width="0.9"/>
<line x1="338.45" y1="389.10" x2="338.45" y2="447.50" stroke="#f0a445" stroke-width="0.9"/>
<line x1="335.15" y1="389.10" x2="341.75" y2="389.10" stroke="#f0a445" stroke-width="0.9"/>
<line x1="335.15" y1="447.50" x2="341.75" y2="447.50" stroke="#f0a445" stroke-width="0.9"/>
<circle cx="338.45" cy="389.10" r="2.05" fill="#fff" stroke="#f5a84d" stroke-width="0.8"/>
<circle cx="338.45" cy="392.50" r="2.05" fill="#fff" stroke="#f5a84d" stroke-width="0.8"/>
<circle cx="338.45" cy="395.10" r="2.05" fill="#fff" stroke="#f5a84d" stroke-width="0.8"/>
<circle cx="338.45" cy="397.70" r="2.05" fill="#fff" stroke="#f5a84d" stroke-width="0.8"/>
<circle cx="338.45" cy="411.10" r="2.05" fill="#fff" stroke="#f5a84d" stroke-width="0.8"/>
<circle cx="338.45" cy="414.20" r="2.05" fill="#fff" stroke="#f5a84d" stroke-width="0.8"/>
<circle cx="338.45" cy="439.50" r="2.05" fill="#fff" stroke="#f5a84d" stroke-width="0.8"/>
<circle cx="338.45" cy="444.70" r="2.05" fill="#fff" stroke="#f5a84d" stroke-width="0.8"/>
<circle cx="338.45" cy="447.80" r="2.05" fill="#fff" stroke="#f5a84d" stroke-width="0.8"/>
<rect x="352.50" y="424.80" width="13.50" height="27.70" fill="#a9d294"/>
<line x1="359.25" y1="452.50" x2="359.25" y2="455.50" stroke="#1a1a1a" stroke-width="0.9"/>
<line x1="359.25" y1="389.10" x2="359.25" y2="452.50" stroke="#6db257" stroke-width="0.9"/>
<line x1="355.95" y1="389.10" x2="362.55" y2="389.10" stroke="#6db257" stroke-width="0.9"/>
<circle cx="359.25" cy="361.50" r="2.05" fill="#fff" stroke="#72b85d" stroke-width="0.8"/>
<circle cx="359.25" cy="372.40" r="2.05" fill="#fff" stroke="#72b85d" stroke-width="0.8"/>
<circle cx="359.25" cy="382.70" r="2.05" fill="#fff" stroke="#72b85d" stroke-width="0.8"/>
<circle cx="359.25" cy="389.10" r="2.05" fill="#fff" stroke="#72b85d" stroke-width="0.8"/>
<circle cx="359.25" cy="446.00" r="2.05" fill="#fff" stroke="#72b85d" stroke-width="0.8"/>
<circle cx="359.25" cy="449.40" r="2.05" fill="#fff" stroke="#72b85d" stroke-width="0.8"/>
<circle cx="359.25" cy="452.00" r="2.05" fill="#fff" stroke="#72b85d" stroke-width="0.8"/>
<text transform="translate(282.00,397.15) rotate(-90)" x="0" y="0" font-size="9.2" text-anchor="middle" fill="#2a2a2a" stroke="#2a2a2a" stroke-width="0.18" textLength="46.5" lengthAdjust="spacingAndGlyphs">% of hCD45<tspan font-size="7.18" dy="-3.68">+</tspan></text>
<line x1="418.80" y1="344.00" x2="418.80" y2="453.20" stroke="#1a1a1a" stroke-width="1.3"/>
<line x1="418.30" y1="452.70" x2="490.20" y2="452.70" stroke="#1a1a1a" stroke-width="1.3"/>
<line x1="415.60" y1="345.50" x2="418.80" y2="345.50" stroke="#1a1a1a" stroke-width="0.9"/>
<text x="413.80" y="348.55" font-size="8.5" text-anchor="end" fill="#2a2a2a" font-weight="normal" stroke="#2a2a2a" stroke-width="0.18" >40</text>
<line x1="415.60" y1="372.20" x2="418.80" y2="372.20" stroke="#1a1a1a" stroke-width="0.9"/>
<text x="413.80" y="375.25" font-size="8.5" text-anchor="end" fill="#2a2a2a" font-weight="normal" stroke="#2a2a2a" stroke-width="0.18" >30</text>
<line x1="415.60" y1="399.20" x2="418.80" y2="399.20" stroke="#1a1a1a" stroke-width="0.9"/>
<text x="413.80" y="402.25" font-size="8.5" text-anchor="end" fill="#2a2a2a" font-weight="normal" stroke="#2a2a2a" stroke-width="0.18" >20</text>
<line x1="415.60" y1="426.00" x2="418.80" y2="426.00" stroke="#1a1a1a" stroke-width="0.9"/>
<text x="413.80" y="429.05" font-size="8.5" text-anchor="end" fill="#2a2a2a" font-weight="normal" stroke="#2a2a2a" stroke-width="0.18" >10</text>
<line x1="415.60" y1="452.70" x2="418.80" y2="452.70" stroke="#1a1a1a" stroke-width="0.9"/>
<text x="413.80" y="455.75" font-size="8.5" text-anchor="end" fill="#2a2a2a" font-weight="normal" stroke="#2a2a2a" stroke-width="0.18" >0</text>
<rect x="427.30" y="435.10" width="13.50" height="17.60" fill="#7a89b9"/>
<line x1="434.05" y1="452.70" x2="434.05" y2="455.70" stroke="#1a1a1a" stroke-width="0.9"/>
<line x1="434.05" y1="418.20" x2="434.05" y2="452.00" stroke="#55719f" stroke-width="0.9"/>
<line x1="430.75" y1="418.20" x2="437.35" y2="418.20" stroke="#55719f" stroke-width="0.9"/>
<line x1="430.75" y1="452.00" x2="437.35" y2="452.00" stroke="#55719f" stroke-width="0.9"/>
<circle cx="434.05" cy="418.20" r="2.05" fill="#fff" stroke="#5b7dc4" stroke-width="0.8"/>
<circle cx="434.05" cy="423.40" r="2.05" fill="#fff" stroke="#5b7dc4" stroke-width="0.8"/>
<circle cx="434.05" cy="429.40" r="2.05" fill="#fff" stroke="#5b7dc4" stroke-width="0.8"/>
<circle cx="434.05" cy="435.00" r="2.05" fill="#fff" stroke="#5b7dc4" stroke-width="0.8"/>
<circle cx="434.05" cy="441.60" r="2.05" fill="#fff" stroke="#5b7dc4" stroke-width="0.8"/>
<circle cx="434.05" cy="446.80" r="2.05" fill="#fff" stroke="#5b7dc4" stroke-width="0.8"/>
<rect x="448.60" y="416.10" width="13.50" height="36.60" fill="#f9c281"/>
<line x1="455.35" y1="452.70" x2="455.35" y2="455.70" stroke="#1a1a1a" stroke-width="0.9"/>
<line x1="455.35" y1="390.90" x2="455.35" y2="441.30" stroke="#f0a445" stroke-width="0.9"/>
<line x1="452.05" y1="390.90" x2="458.65" y2="390.90" stroke="#f0a445" stroke-width="0.9"/>
<line x1="452.05" y1="441.30" x2="458.65" y2="441.30" stroke="#f0a445" stroke-width="0.9"/>
<circle cx="455.35" cy="370.10" r="2.05" fill="#fff" stroke="#f5a84d" stroke-width="0.8"/>
<circle cx="455.35" cy="389.60" r="2.05" fill="#fff" stroke="#f5a84d" stroke-width="0.8"/>
<circle cx="455.35" cy="405.20" r="2.05" fill="#fff" stroke="#f5a84d" stroke-width="0.8"/>
<circle cx="455.35" cy="408.60" r="2.05" fill="#fff" stroke="#f5a84d" stroke-width="0.8"/>
<circle cx="455.35" cy="426.80" r="2.05" fill="#fff" stroke="#f5a84d" stroke-width="0.8"/>
<circle cx="455.35" cy="433.00" r="2.05" fill="#fff" stroke="#f5a84d" stroke-width="0.8"/>
<circle cx="455.35" cy="441.60" r="2.05" fill="#fff" stroke="#f5a84d" stroke-width="0.8"/>
<circle cx="455.35" cy="448.60" r="2.05" fill="#fff" stroke="#f5a84d" stroke-width="0.8"/>
<rect x="469.90" y="431.20" width="13.30" height="21.50" fill="#a9d294"/>
<line x1="476.55" y1="452.70" x2="476.55" y2="455.70" stroke="#1a1a1a" stroke-width="0.9"/>
<line x1="476.55" y1="405.20" x2="476.55" y2="452.70" stroke="#6db257" stroke-width="0.9"/>
<line x1="473.25" y1="405.20" x2="479.85" y2="405.20" stroke="#6db257" stroke-width="0.9"/>
<circle cx="476.55" cy="384.40" r="2.05" fill="#fff" stroke="#72b85d" stroke-width="0.8"/>
<circle cx="476.55" cy="392.20" r="2.05" fill="#fff" stroke="#72b85d" stroke-width="0.8"/>
<circle cx="476.55" cy="400.00" r="2.05" fill="#fff" stroke="#72b85d" stroke-width="0.8"/>
<circle cx="476.55" cy="405.20" r="2.05" fill="#fff" stroke="#72b85d" stroke-width="0.8"/>
<circle cx="476.55" cy="446.00" r="2.05" fill="#fff" stroke="#72b85d" stroke-width="0.8"/>
<circle cx="476.55" cy="450.10" r="2.05" fill="#fff" stroke="#72b85d" stroke-width="0.8"/>
<line x1="434.40" y1="357.10" x2="455.10" y2="357.10" stroke="#3a3a3a" stroke-width="1.1"/>
<text x="444.70" y="357.60" font-size="8.0" text-anchor="middle" fill="#222" font-weight="bold" stroke="#222" stroke-width="0.18" >*</text>
<text transform="translate(397.90,397.25) rotate(-90)" x="0" y="0" font-size="9.2" text-anchor="middle" fill="#2a2a2a" stroke="#2a2a2a" stroke-width="0.18" textLength="124.5" lengthAdjust="spacingAndGlyphs">hCD45<tspan font-size="7.18" dy="-3.68">+</tspan><tspan dy="3.68">cell number/spleen (×10</tspan><tspan font-size="7.18" dy="-3.68">4</tspan><tspan dy="3.68">)</tspan></text>
<text x="81.25" y="486.20" font-size="10.5" text-anchor="start" fill="#2a2a2a" font-weight="normal" textLength="86.5" lengthAdjust="spacingAndGlyphs" stroke="#2a2a2a" stroke-width="0.18" >Bone marrow (+10)</text>
<line x1="45.80" y1="501.20" x2="45.80" y2="607.70" stroke="#1a1a1a" stroke-width="1.3"/>
<line x1="45.30" y1="607.20" x2="111.50" y2="607.20" stroke="#1a1a1a" stroke-width="1.3"/>
<line x1="42.60" y1="502.70" x2="45.80" y2="502.70" stroke="#1a1a1a" stroke-width="0.9"/>
<text x="40.80" y="505.75" font-size="8.5" text-anchor="end" fill="#2a2a2a" font-weight="normal" stroke="#2a2a2a" stroke-width="0.18" >1.2</text>
<line x1="42.60" y1="537.30" x2="45.80" y2="537.30" stroke="#1a1a1a" stroke-width="0.9"/>
<text x="40.80" y="540.35" font-size="8.5" text-anchor="end" fill="#2a2a2a" font-weight="normal" stroke="#2a2a2a" stroke-width="0.18" >0.8</text>
<line x1="42.60" y1="572.40" x2="45.80" y2="572.40" stroke="#1a1a1a" stroke-width="0.9"/>
<text x="40.80" y="575.45" font-size="8.5" text-anchor="end" fill="#2a2a2a" font-weight="normal" stroke="#2a2a2a" stroke-width="0.18" >0.4</text>
<line x1="42.60" y1="607.20" x2="45.80" y2="607.20" stroke="#1a1a1a" stroke-width="0.9"/>
<text x="40.80" y="610.25" font-size="8.5" text-anchor="end" fill="#2a2a2a" font-weight="normal" stroke="#2a2a2a" stroke-width="0.18" >0.0</text>
<rect x="53.40" y="590.90" width="13.80" height="16.30" fill="#7a89b9"/>
<line x1="60.30" y1="607.20" x2="60.30" y2="610.20" stroke="#1a1a1a" stroke-width="0.9"/>
<line x1="60.30" y1="577.70" x2="60.30" y2="604.10" stroke="#55719f" stroke-width="0.9"/>
<line x1="57.00" y1="577.70" x2="63.60" y2="577.70" stroke="#55719f" stroke-width="0.9"/>
<line x1="57.00" y1="604.10" x2="63.60" y2="604.10" stroke="#55719f" stroke-width="0.9"/>
<circle cx="60.30" cy="563.20" r="2.05" fill="#fff" stroke="#5b7dc4" stroke-width="0.8"/>
<circle cx="60.30" cy="574.20" r="2.05" fill="#fff" stroke="#5b7dc4" stroke-width="0.8"/>
<circle cx="60.30" cy="578.90" r="2.05" fill="#fff" stroke="#5b7dc4" stroke-width="0.8"/>
<circle cx="60.30" cy="589.20" r="2.05" fill="#fff" stroke="#5b7dc4" stroke-width="0.8"/>
<circle cx="60.30" cy="595.00" r="2.05" fill="#fff" stroke="#5b7dc4" stroke-width="0.8"/>
<circle cx="60.30" cy="600.80" r="2.05" fill="#fff" stroke="#5b7dc4" stroke-width="0.8"/>
<circle cx="60.30" cy="604.20" r="2.05" fill="#fff" stroke="#5b7dc4" stroke-width="0.8"/>
<rect x="74.60" y="571.90" width="13.90" height="35.30" fill="#f9c281"/>
<line x1="81.55" y1="607.20" x2="81.55" y2="610.20" stroke="#1a1a1a" stroke-width="0.9"/>
<line x1="81.55" y1="551.20" x2="81.55" y2="592.60" stroke="#f0a445" stroke-width="0.9"/>
<line x1="78.25" y1="551.20" x2="84.85" y2="551.20" stroke="#f0a445" stroke-width="0.9"/>
<line x1="78.25" y1="592.60" x2="84.85" y2="592.60" stroke="#f0a445" stroke-width="0.9"/>
<circle cx="81.55" cy="539.20" r="2.05" fill="#fff" stroke="#f5a84d" stroke-width="0.8"/>
<circle cx="81.55" cy="548.80" r="2.05" fill="#fff" stroke="#f5a84d" stroke-width="0.8"/>
<circle cx="81.55" cy="561.50" r="2.05" fill="#fff" stroke="#f5a84d" stroke-width="0.8"/>
<circle cx="81.55" cy="567.30" r="2.05" fill="#fff" stroke="#f5a84d" stroke-width="0.8"/>
<circle cx="81.55" cy="577.70" r="2.05" fill="#fff" stroke="#f5a84d" stroke-width="0.8"/>
<circle cx="81.55" cy="586.90" r="2.05" fill="#fff" stroke="#f5a84d" stroke-width="0.8"/>
<circle cx="81.55" cy="597.30" r="2.05" fill="#fff" stroke="#f5a84d" stroke-width="0.8"/>
<circle cx="81.55" cy="603.00" r="2.05" fill="#fff" stroke="#f5a84d" stroke-width="0.8"/>
<rect x="95.90" y="564.50" width="13.80" height="42.70" fill="#a9d294"/>
<line x1="102.80" y1="607.20" x2="102.80" y2="610.20" stroke="#1a1a1a" stroke-width="0.9"/>
<line x1="102.80" y1="532.20" x2="102.80" y2="596.80" stroke="#6db257" stroke-width="0.9"/>
<line x1="99.50" y1="532.20" x2="106.10" y2="532.20" stroke="#6db257" stroke-width="0.9"/>
<line x1="99.50" y1="596.80" x2="106.10" y2="596.80" stroke="#6db257" stroke-width="0.9"/>
<circle cx="102.80" cy="517.20" r="2.05" fill="#fff" stroke="#72b85d" stroke-width="0.8"/>
<circle cx="102.80" cy="520.70" r="2.05" fill="#fff" stroke="#72b85d" stroke-width="0.8"/>
<circle cx="102.80" cy="525.80" r="2.05" fill="#fff" stroke="#72b85d" stroke-width="0.8"/>
<circle cx="102.80" cy="550.00" r="2.05" fill="#fff" stroke="#72b85d" stroke-width="0.8"/>
<circle cx="102.80" cy="556.90" r="2.05" fill="#fff" stroke="#72b85d" stroke-width="0.8"/>
<circle cx="102.80" cy="576.50" r="2.05" fill="#fff" stroke="#72b85d" stroke-width="0.8"/>
<circle cx="102.80" cy="603.00" r="2.05" fill="#fff" stroke="#72b85d" stroke-width="0.8"/>
<line x1="60.80" y1="502.70" x2="102.30" y2="502.70" stroke="#3a3a3a" stroke-width="1.1"/>
<text x="75.92" y="503.15" font-size="8.0" text-anchor="middle" fill="#222" font-weight="bold" stroke="#222" stroke-width="0.18" >*</text>
<text x="79.47" y="503.15" font-size="8.0" text-anchor="middle" fill="#222" font-weight="bold" stroke="#222" stroke-width="0.18" >*</text>
<text x="83.03" y="503.15" font-size="8.0" text-anchor="middle" fill="#222" font-weight="bold" stroke="#222" stroke-width="0.18" >*</text>
<text x="86.58" y="503.15" font-size="8.0" text-anchor="middle" fill="#222" font-weight="bold" stroke="#222" stroke-width="0.18" >*</text>
<text transform="translate(23.20,553.45) rotate(-90)" x="0" y="0" font-size="9.2" text-anchor="middle" fill="#2a2a2a" stroke="#2a2a2a" stroke-width="0.18" textLength="45.1" lengthAdjust="spacingAndGlyphs">% of hCD45<tspan font-size="7.18" dy="-3.68">+</tspan></text>
<line x1="166.50" y1="501.00" x2="166.50" y2="607.60" stroke="#1a1a1a" stroke-width="1.3"/>
<line x1="166.00" y1="607.10" x2="239.20" y2="607.10" stroke="#1a1a1a" stroke-width="1.3"/>
<line x1="163.30" y1="502.50" x2="166.50" y2="502.50" stroke="#1a1a1a" stroke-width="0.9"/>
<text x="161.50" y="505.55" font-size="8.5" text-anchor="end" fill="#2a2a2a" font-weight="normal" stroke="#2a2a2a" stroke-width="0.18" >80</text>
<line x1="163.30" y1="528.90" x2="166.50" y2="528.90" stroke="#1a1a1a" stroke-width="0.9"/>
<text x="161.50" y="531.95" font-size="8.5" text-anchor="end" fill="#2a2a2a" font-weight="normal" stroke="#2a2a2a" stroke-width="0.18" >60</text>
<line x1="163.30" y1="554.90" x2="166.50" y2="554.90" stroke="#1a1a1a" stroke-width="0.9"/>
<text x="161.50" y="557.95" font-size="8.5" text-anchor="end" fill="#2a2a2a" font-weight="normal" stroke="#2a2a2a" stroke-width="0.18" >40</text>
<line x1="163.30" y1="581.10" x2="166.50" y2="581.10" stroke="#1a1a1a" stroke-width="0.9"/>
<text x="161.50" y="584.15" font-size="8.5" text-anchor="end" fill="#2a2a2a" font-weight="normal" stroke="#2a2a2a" stroke-width="0.18" >20</text>
<line x1="163.30" y1="607.10" x2="166.50" y2="607.10" stroke="#1a1a1a" stroke-width="0.9"/>
<text x="161.50" y="610.15" font-size="8.5" text-anchor="end" fill="#2a2a2a" font-weight="normal" stroke="#2a2a2a" stroke-width="0.18" >0</text>
<rect x="174.30" y="599.00" width="13.80" height="8.10" fill="#7a89b9"/>
<line x1="181.20" y1="607.10" x2="181.20" y2="610.10" stroke="#1a1a1a" stroke-width="0.9"/>
<line x1="181.20" y1="593.30" x2="181.20" y2="604.70" stroke="#55719f" stroke-width="0.9"/>
<line x1="177.90" y1="593.30" x2="184.50" y2="593.30" stroke="#55719f" stroke-width="0.9"/>
<line x1="177.90" y1="604.70" x2="184.50" y2="604.70" stroke="#55719f" stroke-width="0.9"/>
<circle cx="181.20" cy="591.20" r="2.05" fill="#fff" stroke="#5b7dc4" stroke-width="0.8"/>
<circle cx="181.20" cy="594.10" r="2.05" fill="#fff" stroke="#5b7dc4" stroke-width="0.8"/>
<circle cx="181.20" cy="597.20" r="2.05" fill="#fff" stroke="#5b7dc4" stroke-width="0.8"/>
<circle cx="181.20" cy="601.10" r="2.05" fill="#fff" stroke="#5b7dc4" stroke-width="0.8"/>
<circle cx="181.20" cy="605.00" r="2.05" fill="#fff" stroke="#5b7dc4" stroke-width="0.8"/>
<rect x="195.90" y="584.20" width="13.50" height="22.90" fill="#f9c281"/>
<line x1="202.65" y1="607.10" x2="202.65" y2="610.10" stroke="#1a1a1a" stroke-width="0.9"/>
<line x1="202.65" y1="568.60" x2="202.65" y2="599.80" stroke="#f0a445" stroke-width="0.9"/>
<line x1="199.35" y1="568.60" x2="205.95" y2="568.60" stroke="#f0a445" stroke-width="0.9"/>
<line x1="199.35" y1="599.80" x2="205.95" y2="599.80" stroke="#f0a445" stroke-width="0.9"/>
<circle cx="202.65" cy="550.00" r="2.05" fill="#fff" stroke="#f5a84d" stroke-width="0.8"/>
<circle cx="202.65" cy="575.10" r="2.05" fill="#fff" stroke="#f5a84d" stroke-width="0.8"/>
<circle cx="202.65" cy="580.30" r="2.05" fill="#fff" stroke="#f5a84d" stroke-width="0.8"/>
<circle cx="202.65" cy="585.50" r="2.05" fill="#fff" stroke="#f5a84d" stroke-width="0.8"/>
<circle cx="202.65" cy="590.70" r="2.05" fill="#fff" stroke="#f5a84d" stroke-width="0.8"/>
<circle cx="202.65" cy="595.90" r="2.05" fill="#fff" stroke="#f5a84d" stroke-width="0.8"/>
<circle cx="202.65" cy="599.80" r="2.05" fill="#fff" stroke="#f5a84d" stroke-width="0.8"/>
<circle cx="202.65" cy="603.70" r="2.05" fill="#fff" stroke="#f5a84d" stroke-width="0.8"/>
<rect x="216.60" y="574.60" width="14.10" height="32.50" fill="#a9d294"/>
<line x1="223.65" y1="607.10" x2="223.65" y2="610.10" stroke="#1a1a1a" stroke-width="0.9"/>
<line x1="223.65" y1="544.80" x2="223.65" y2="604.40" stroke="#6db257" stroke-width="0.9"/>
<line x1="220.35" y1="544.80" x2="226.95" y2="544.80" stroke="#6db257" stroke-width="0.9"/>
<line x1="220.35" y1="604.40" x2="226.95" y2="604.40" stroke="#6db257" stroke-width="0.9"/>
<circle cx="223.65" cy="516.20" r="2.05" fill="#fff" stroke="#72b85d" stroke-width="0.8"/>
<circle cx="223.65" cy="529.20" r="2.05" fill="#fff" stroke="#72b85d" stroke-width="0.8"/>
<circle cx="223.65" cy="554.40" r="2.05" fill="#fff" stroke="#72b85d" stroke-width="0.8"/>
<circle cx="223.65" cy="560.90" r="2.05" fill="#fff" stroke="#72b85d" stroke-width="0.8"/>
<circle cx="223.65" cy="566.60" r="2.05" fill="#fff" stroke="#72b85d" stroke-width="0.8"/>
<circle cx="223.65" cy="582.10" r="2.05" fill="#fff" stroke="#72b85d" stroke-width="0.8"/>
<circle cx="223.65" cy="595.10" r="2.05" fill="#fff" stroke="#72b85d" stroke-width="0.8"/>
<circle cx="223.65" cy="604.50" r="2.05" fill="#fff" stroke="#72b85d" stroke-width="0.8"/>
<line x1="180.80" y1="503.00" x2="222.40" y2="503.00" stroke="#3a3a3a" stroke-width="1.1"/>
<text x="196.28" y="502.40" font-size="8.0" text-anchor="middle" fill="#222" font-weight="bold" stroke="#222" stroke-width="0.18" >*</text>
<text x="199.82" y="502.40" font-size="8.0" text-anchor="middle" fill="#222" font-weight="bold" stroke="#222" stroke-width="0.18" >*</text>
<text x="203.38" y="502.40" font-size="8.0" text-anchor="middle" fill="#222" font-weight="bold" stroke="#222" stroke-width="0.18" >*</text>
<text x="206.92" y="502.40" font-size="8.0" text-anchor="middle" fill="#222" font-weight="bold" stroke="#222" stroke-width="0.18" >*</text>
<text transform="translate(145.70,553.25) rotate(-90)" x="0" y="0" font-size="9.2" text-anchor="middle" fill="#2a2a2a" stroke="#2a2a2a" stroke-width="0.18" textLength="113.1" lengthAdjust="spacingAndGlyphs">hCD45<tspan font-size="7.18" dy="-3.68">+</tspan><tspan dy="3.68">cell number/BM (×10</tspan><tspan font-size="7.18" dy="-3.68">3</tspan><tspan dy="3.68">)</tspan></text>
<text x="338.60" y="486.10" font-size="10.5" text-anchor="start" fill="#2a2a2a" font-weight="normal" textLength="86.6" lengthAdjust="spacingAndGlyphs" stroke="#2a2a2a" stroke-width="0.18" >Bone marrow (+14)</text>
<line x1="301.80" y1="498.50" x2="301.80" y2="607.70" stroke="#1a1a1a" stroke-width="1.3"/>
<line x1="301.30" y1="607.20" x2="373.80" y2="607.20" stroke="#1a1a1a" stroke-width="1.3"/>
<line x1="298.60" y1="500.00" x2="301.80" y2="500.00" stroke="#1a1a1a" stroke-width="0.9"/>
<text x="296.80" y="503.05" font-size="8.5" text-anchor="end" fill="#2a2a2a" font-weight="normal" stroke="#2a2a2a" stroke-width="0.18" >0.3</text>
<line x1="298.60" y1="536.30" x2="301.80" y2="536.30" stroke="#1a1a1a" stroke-width="0.9"/>
<text x="296.80" y="539.35" font-size="8.5" text-anchor="end" fill="#2a2a2a" font-weight="normal" stroke="#2a2a2a" stroke-width="0.18" >0.2</text>
<line x1="298.60" y1="571.50" x2="301.80" y2="571.50" stroke="#1a1a1a" stroke-width="0.9"/>
<text x="296.80" y="574.55" font-size="8.5" text-anchor="end" fill="#2a2a2a" font-weight="normal" stroke="#2a2a2a" stroke-width="0.18" >0.1</text>
<line x1="298.60" y1="607.20" x2="301.80" y2="607.20" stroke="#1a1a1a" stroke-width="0.9"/>
<text x="296.80" y="610.25" font-size="8.5" text-anchor="end" fill="#2a2a2a" font-weight="normal" stroke="#2a2a2a" stroke-width="0.18" >0.0</text>
<rect x="310.30" y="593.50" width="13.80" height="13.70" fill="#7a89b9"/>
<line x1="317.20" y1="607.20" x2="317.20" y2="610.20" stroke="#1a1a1a" stroke-width="0.9"/>
<line x1="317.20" y1="586.00" x2="317.20" y2="601.00" stroke="#55719f" stroke-width="0.9"/>
<line x1="313.90" y1="586.00" x2="320.50" y2="586.00" stroke="#55719f" stroke-width="0.9"/>
<line x1="313.90" y1="601.00" x2="320.50" y2="601.00" stroke="#55719f" stroke-width="0.9"/>
<circle cx="317.20" cy="580.00" r="2.05" fill="#fff" stroke="#5b7dc4" stroke-width="0.8"/>
<circle cx="317.20" cy="586.60" r="2.05" fill="#fff" stroke="#5b7dc4" stroke-width="0.8"/>
<circle cx="317.20" cy="590.60" r="2.05" fill="#fff" stroke="#5b7dc4" stroke-width="0.8"/>
<circle cx="317.20" cy="594.80" r="2.05" fill="#fff" stroke="#5b7dc4" stroke-width="0.8"/>
<circle cx="317.20" cy="599.30" r="2.05" fill="#fff" stroke="#5b7dc4" stroke-width="0.8"/>
<circle cx="317.20" cy="603.30" r="2.05" fill="#fff" stroke="#5b7dc4" stroke-width="0.8"/>
<rect x="331.50" y="580.80" width="13.80" height="26.40" fill="#f9c281"/>
<line x1="338.40" y1="607.20" x2="338.40" y2="610.20" stroke="#1a1a1a" stroke-width="0.9"/>
<line x1="338.40" y1="563.00" x2="338.40" y2="598.60" stroke="#f0a445" stroke-width="0.9"/>
<line x1="335.10" y1="563.00" x2="341.70" y2="563.00" stroke="#f0a445" stroke-width="0.9"/>
<line x1="335.10" y1="598.60" x2="341.70" y2="598.60" stroke="#f0a445" stroke-width="0.9"/>
<circle cx="338.40" cy="556.90" r="2.05" fill="#fff" stroke="#f5a84d" stroke-width="0.8"/>
<circle cx="338.40" cy="563.60" r="2.05" fill="#fff" stroke="#f5a84d" stroke-width="0.8"/>
<circle cx="338.40" cy="566.20" r="2.05" fill="#fff" stroke="#f5a84d" stroke-width="0.8"/>
<circle cx="338.40" cy="576.80" r="2.05" fill="#fff" stroke="#f5a84d" stroke-width="0.8"/>
<circle cx="338.40" cy="592.10" r="2.05" fill="#fff" stroke="#f5a84d" stroke-width="0.8"/>
<circle cx="338.40" cy="595.30" r="2.05" fill="#fff" stroke="#f5a84d" stroke-width="0.8"/>
<rect x="352.10" y="568.00" width="13.80" height="39.20" fill="#a9d294"/>
<line x1="359.00" y1="607.20" x2="359.00" y2="610.20" stroke="#1a1a1a" stroke-width="0.9"/>
<line x1="359.00" y1="535.20" x2="359.00" y2="600.80" stroke="#6db257" stroke-width="0.9"/>
<line x1="355.70" y1="535.20" x2="362.30" y2="535.20" stroke="#6db257" stroke-width="0.9"/>
<line x1="355.70" y1="600.80" x2="362.30" y2="600.80" stroke="#6db257" stroke-width="0.9"/>
<circle cx="359.00" cy="504.00" r="2.05" fill="#fff" stroke="#72b85d" stroke-width="0.8"/>
<circle cx="359.00" cy="539.70" r="2.05" fill="#fff" stroke="#72b85d" stroke-width="0.8"/>
<circle cx="359.00" cy="546.30" r="2.05" fill="#fff" stroke="#72b85d" stroke-width="0.8"/>
<circle cx="359.00" cy="574.90" r="2.05" fill="#fff" stroke="#72b85d" stroke-width="0.8"/>
<circle cx="359.00" cy="592.10" r="2.05" fill="#fff" stroke="#72b85d" stroke-width="0.8"/>
<circle cx="359.00" cy="599.30" r="2.05" fill="#fff" stroke="#72b85d" stroke-width="0.8"/>
<line x1="317.70" y1="498.20" x2="359.30" y2="498.20" stroke="#3a3a3a" stroke-width="1.1"/>
<text x="332.78" y="499.10" font-size="8.0" text-anchor="middle" fill="#222" font-weight="bold" stroke="#222" stroke-width="0.18" >*</text>
<text x="336.33" y="499.10" font-size="8.0" text-anchor="middle" fill="#222" font-weight="bold" stroke="#222" stroke-width="0.18" >*</text>
<text x="339.88" y="499.10" font-size="8.0" text-anchor="middle" fill="#222" font-weight="bold" stroke="#222" stroke-width="0.18" >*</text>
<text x="343.43" y="499.10" font-size="8.0" text-anchor="middle" fill="#222" font-weight="bold" stroke="#222" stroke-width="0.18" >*</text>
<line x1="317.70" y1="516.40" x2="338.60" y2="516.40" stroke="#3a3a3a" stroke-width="1.1"/>
<text x="326.53" y="516.30" font-size="8.0" text-anchor="middle" fill="#222" font-weight="bold" stroke="#222" stroke-width="0.18" >*</text>
<text x="330.07" y="516.30" font-size="8.0" text-anchor="middle" fill="#222" font-weight="bold" stroke="#222" stroke-width="0.18" >*</text>
<text transform="translate(279.50,554.40) rotate(-90)" x="0" y="0" font-size="9.0" text-anchor="middle" fill="#2a2a2a" stroke="#2a2a2a" stroke-width="0.18" textLength="43.2" lengthAdjust="spacingAndGlyphs">% of hCD45<tspan font-size="7.02" dy="-3.60">+</tspan></text>
<line x1="419.50" y1="501.50" x2="419.50" y2="607.60" stroke="#1a1a1a" stroke-width="1.3"/>
<line x1="419.00" y1="607.10" x2="490.10" y2="607.10" stroke="#1a1a1a" stroke-width="1.3"/>
<line x1="416.30" y1="503.00" x2="419.50" y2="503.00" stroke="#1a1a1a" stroke-width="0.9"/>
<text x="414.50" y="506.05" font-size="8.5" text-anchor="end" fill="#2a2a2a" font-weight="normal" stroke="#2a2a2a" stroke-width="0.18" >15</text>
<line x1="416.30" y1="538.00" x2="419.50" y2="538.00" stroke="#1a1a1a" stroke-width="0.9"/>
<text x="414.50" y="541.05" font-size="8.5" text-anchor="end" fill="#2a2a2a" font-weight="normal" stroke="#2a2a2a" stroke-width="0.18" >10</text>
<line x1="416.30" y1="572.50" x2="419.50" y2="572.50" stroke="#1a1a1a" stroke-width="0.9"/>
<text x="414.50" y="575.55" font-size="8.5" text-anchor="end" fill="#2a2a2a" font-weight="normal" stroke="#2a2a2a" stroke-width="0.18" >5</text>
<line x1="416.30" y1="607.10" x2="419.50" y2="607.10" stroke="#1a1a1a" stroke-width="0.9"/>
<text x="414.50" y="610.15" font-size="8.5" text-anchor="end" fill="#2a2a2a" font-weight="normal" stroke="#2a2a2a" stroke-width="0.18" >0</text>
<rect x="427.30" y="597.70" width="13.50" height="9.40" fill="#7a89b9"/>
<line x1="434.05" y1="607.10" x2="434.05" y2="610.10" stroke="#1a1a1a" stroke-width="0.9"/>
<line x1="434.05" y1="592.00" x2="434.05" y2="603.40" stroke="#55719f" stroke-width="0.9"/>
<line x1="430.75" y1="592.00" x2="437.35" y2="592.00" stroke="#55719f" stroke-width="0.9"/>
<line x1="430.75" y1="603.40" x2="437.35" y2="603.40" stroke="#55719f" stroke-width="0.9"/>
<circle cx="434.05" cy="588.10" r="2.05" fill="#fff" stroke="#5b7dc4" stroke-width="0.8"/>
<circle cx="434.05" cy="592.00" r="2.05" fill="#fff" stroke="#5b7dc4" stroke-width="0.8"/>
<circle cx="434.05" cy="598.50" r="2.05" fill="#fff" stroke="#5b7dc4" stroke-width="0.8"/>
<circle cx="434.05" cy="602.40" r="2.05" fill="#fff" stroke="#5b7dc4" stroke-width="0.8"/>
<circle cx="434.05" cy="605.00" r="2.05" fill="#fff" stroke="#5b7dc4" stroke-width="0.8"/>
<rect x="448.60" y="586.00" width="13.50" height="21.10" fill="#f9c281"/>
<line x1="455.35" y1="607.10" x2="455.35" y2="610.10" stroke="#1a1a1a" stroke-width="0.9"/>
<line x1="455.35" y1="576.40" x2="455.35" y2="595.60" stroke="#f0a445" stroke-width="0.9"/>
<line x1="452.05" y1="576.40" x2="458.65" y2="576.40" stroke="#f0a445" stroke-width="0.9"/>
<line x1="452.05" y1="595.60" x2="458.65" y2="595.60" stroke="#f0a445" stroke-width="0.9"/>
<circle cx="455.35" cy="571.20" r="2.05" fill="#fff" stroke="#f5a84d" stroke-width="0.8"/>
<circle cx="455.35" cy="574.40" r="2.05" fill="#fff" stroke="#f5a84d" stroke-width="0.8"/>
<circle cx="455.35" cy="578.50" r="2.05" fill="#fff" stroke="#f5a84d" stroke-width="0.8"/>
<circle cx="455.35" cy="584.20" r="2.05" fill="#fff" stroke="#f5a84d" stroke-width="0.8"/>
<circle cx="455.35" cy="589.90" r="2.05" fill="#fff" stroke="#f5a84d" stroke-width="0.8"/>
<circle cx="455.35" cy="597.20" r="2.05" fill="#fff" stroke="#f5a84d" stroke-width="0.8"/>
<rect x="469.90" y="568.60" width="13.20" height="38.50" fill="#a9d294"/>
<line x1="476.50" y1="607.10" x2="476.50" y2="610.10" stroke="#1a1a1a" stroke-width="0.9"/>
<line x1="476.50" y1="538.00" x2="476.50" y2="599.20" stroke="#6db257" stroke-width="0.9"/>
<line x1="473.20" y1="538.00" x2="479.80" y2="538.00" stroke="#6db257" stroke-width="0.9"/>
<line x1="473.20" y1="599.20" x2="479.80" y2="599.20" stroke="#6db257" stroke-width="0.9"/>
<circle cx="476.50" cy="525.00" r="2.05" fill="#fff" stroke="#72b85d" stroke-width="0.8"/>
<circle cx="476.50" cy="530.20" r="2.05" fill="#fff" stroke="#72b85d" stroke-width="0.8"/>
<circle cx="476.50" cy="543.20" r="2.05" fill="#fff" stroke="#72b85d" stroke-width="0.8"/>
<circle cx="476.50" cy="545.80" r="2.05" fill="#fff" stroke="#72b85d" stroke-width="0.8"/>
<circle cx="476.50" cy="558.30" r="2.05" fill="#fff" stroke="#72b85d" stroke-width="0.8"/>
<circle cx="476.50" cy="586.30" r="2.05" fill="#fff" stroke="#72b85d" stroke-width="0.8"/>
<circle cx="476.50" cy="596.70" r="2.05" fill="#fff" stroke="#72b85d" stroke-width="0.8"/>
<circle cx="476.50" cy="599.80" r="2.05" fill="#fff" stroke="#72b85d" stroke-width="0.8"/>
<line x1="434.30" y1="503.20" x2="475.90" y2="503.20" stroke="#3a3a3a" stroke-width="1.1"/>
<text x="449.78" y="502.40" font-size="8.0" text-anchor="middle" fill="#222" font-weight="bold" stroke="#222" stroke-width="0.18" >*</text>
<text x="453.33" y="502.40" font-size="8.0" text-anchor="middle" fill="#222" font-weight="bold" stroke="#222" stroke-width="0.18" >*</text>
<text x="456.88" y="502.40" font-size="8.0" text-anchor="middle" fill="#222" font-weight="bold" stroke="#222" stroke-width="0.18" >*</text>
<text x="460.43" y="502.40" font-size="8.0" text-anchor="middle" fill="#222" font-weight="bold" stroke="#222" stroke-width="0.18" >*</text>
<line x1="455.60" y1="514.70" x2="475.90" y2="514.70" stroke="#3a3a3a" stroke-width="1.1"/>
<text x="466.00" y="514.60" font-size="8.0" text-anchor="middle" fill="#222" font-weight="bold" stroke="#222" stroke-width="0.18" >*</text>
<line x1="434.30" y1="526.60" x2="455.10" y2="526.60" stroke="#3a3a3a" stroke-width="1.1"/>
<text x="442.93" y="527.10" font-size="8.0" text-anchor="middle" fill="#222" font-weight="bold" stroke="#222" stroke-width="0.18" >*</text>
<text x="446.47" y="527.10" font-size="8.0" text-anchor="middle" fill="#222" font-weight="bold" stroke="#222" stroke-width="0.18" >*</text>
<text transform="translate(398.60,552.90) rotate(-90)" x="0" y="0" font-size="9.2" text-anchor="middle" fill="#2a2a2a" stroke="#2a2a2a" stroke-width="0.18" textLength="113.8" lengthAdjust="spacingAndGlyphs">hCD45<tspan font-size="7.18" dy="-3.68">+</tspan><tspan dy="3.68">cell number/BM (×10</tspan><tspan font-size="7.18" dy="-3.68">3</tspan><tspan dy="3.68">)</tspan></text>
<text x="47.60" y="211.90" font-size="9.2" text-anchor="start" fill="#3f6da3" font-weight="normal" textLength="44.6" lengthAdjust="spacingAndGlyphs" stroke="#3f6da3" stroke-width="0.18" >CD33.CAR<tspan font-size="5.89" dy="-3.04">+</tspan></text>
<text x="120.90" y="200.40" font-size="9.2" text-anchor="start" fill="#f0a545" font-weight="normal" textLength="44.6" lengthAdjust="spacingAndGlyphs" stroke="#f0a545" stroke-width="0.18" >CD33.CAR<tspan font-size="5.89" dy="-3.04">+</tspan></text>
<text x="126.70" y="211.50" font-size="9.2" text-anchor="start" fill="#f0a545" font-weight="normal" textLength="33.2" lengthAdjust="spacingAndGlyphs" stroke="#f0a545" stroke-width="0.18" >CXCR4<tspan font-size="5.89" dy="-3.04">wt</tspan></text>
<text x="192.30" y="200.40" font-size="9.2" text-anchor="start" fill="#55ad4a" font-weight="normal" textLength="44.6" lengthAdjust="spacingAndGlyphs" stroke="#55ad4a" stroke-width="0.18" >CD33.CAR<tspan font-size="5.89" dy="-3.04">+</tspan></text>
<text x="196.20" y="211.50" font-size="9.2" text-anchor="start" fill="#55ad4a" font-weight="normal" textLength="38.2" lengthAdjust="spacingAndGlyphs" stroke="#55ad4a" stroke-width="0.18" >CXCR4<tspan font-size="5.89" dy="-3.04">mut</tspan></text>
<rect x="35.20" y="213.6" width="68.60" height="68.9" fill="none" stroke="#999" stroke-width="0.8"/>
<line x1="33.70" y1="220.20" x2="36.20" y2="220.20" stroke="#777" stroke-width="0.6"/>
<line x1="33.70" y1="235.60" x2="36.20" y2="235.60" stroke="#777" stroke-width="0.6"/>
<line x1="33.70" y1="252.00" x2="36.20" y2="252.00" stroke="#777" stroke-width="0.6"/>
<line x1="33.70" y1="268.30" x2="36.20" y2="268.30" stroke="#777" stroke-width="0.6"/>
<line x1="63.80" y1="282.50" x2="63.80" y2="284.20" stroke="#999" stroke-width="0.6"/>
<line x1="80.80" y1="282.50" x2="80.80" y2="284.20" stroke="#999" stroke-width="0.6"/>
<line x1="97.70" y1="282.50" x2="97.70" y2="284.20" stroke="#999" stroke-width="0.6"/>
<line x1="42.20" y1="283.90" x2="48.20" y2="283.90" stroke="#444" stroke-width="0.9"/>
<line x1="34.20" y1="269.50" x2="34.20" y2="277.50" stroke="#666" stroke-width="0.9"/>
<rect x="107.80" y="213.6" width="68.40" height="68.9" fill="none" stroke="#999" stroke-width="0.8"/>
<line x1="106.30" y1="220.20" x2="108.80" y2="220.20" stroke="#777" stroke-width="0.6"/>
<line x1="106.30" y1="235.60" x2="108.80" y2="235.60" stroke="#777" stroke-width="0.6"/>
<line x1="106.30" y1="252.00" x2="108.80" y2="252.00" stroke="#777" stroke-width="0.6"/>
<line x1="106.30" y1="268.30" x2="108.80" y2="268.30" stroke="#777" stroke-width="0.6"/>
<line x1="136.40" y1="282.50" x2="136.40" y2="284.20" stroke="#999" stroke-width="0.6"/>
<line x1="153.40" y1="282.50" x2="153.40" y2="284.20" stroke="#999" stroke-width="0.6"/>
<line x1="170.30" y1="282.50" x2="170.30" y2="284.20" stroke="#999" stroke-width="0.6"/>
<line x1="114.80" y1="283.90" x2="120.80" y2="283.90" stroke="#444" stroke-width="0.9"/>
<line x1="106.80" y1="269.50" x2="106.80" y2="277.50" stroke="#666" stroke-width="0.9"/>
<rect x="180.10" y="213.6" width="68.40" height="68.9" fill="none" stroke="#999" stroke-width="0.8"/>
<line x1="178.60" y1="220.20" x2="181.10" y2="220.20" stroke="#777" stroke-width="0.6"/>
<line x1="178.60" y1="235.60" x2="181.10" y2="235.60" stroke="#777" stroke-width="0.6"/>
<line x1="178.60" y1="252.00" x2="181.10" y2="252.00" stroke="#777" stroke-width="0.6"/>
<line x1="178.60" y1="268.30" x2="181.10" y2="268.30" stroke="#777" stroke-width="0.6"/>
<line x1="208.70" y1="282.50" x2="208.70" y2="284.20" stroke="#999" stroke-width="0.6"/>
<line x1="225.70" y1="282.50" x2="225.70" y2="284.20" stroke="#999" stroke-width="0.6"/>
<line x1="242.60" y1="282.50" x2="242.60" y2="284.20" stroke="#999" stroke-width="0.6"/>
<line x1="187.10" y1="283.90" x2="193.10" y2="283.90" stroke="#444" stroke-width="0.9"/>
<line x1="179.10" y1="269.50" x2="179.10" y2="277.50" stroke="#666" stroke-width="0.9"/>
<text transform="translate(17.40,248.85) rotate(-90)" x="0" y="0" font-size="10.4" text-anchor="middle" fill="#2a2a2a" stroke="#2a2a2a" stroke-width="0.18" textLength="58.9" lengthAdjust="spacingAndGlyphs">Bone marrow</text>
<text transform="translate(29.40,231.10) rotate(-90)" x="0" y="0" font-size="9.4" text-anchor="middle" fill="#2a2a2a" stroke="#2a2a2a" stroke-width="0.18" textLength="26.2" lengthAdjust="spacingAndGlyphs">mCD45</text>
<line x1="26.50" y1="291.40" x2="26.50" y2="256.50" stroke="#111" stroke-width="1.3"/>
<path d="M23.6,258.0 L26.6,251.3 L29.6,258.0 L26.6,256.6 Z" fill="#111"/>
<line x1="29.50" y1="291.70" x2="214.50" y2="291.70" stroke="#111" stroke-width="1.3"/>
<path d="M213.0,288.7 L219.8,291.7 L213.0,294.7 L214.4,291.7 Z" fill="#111"/>
<text x="222.70" y="294.20" font-size="8.4" text-anchor="start" fill="#2a2a2a" font-weight="normal" textLength="23.8" lengthAdjust="spacingAndGlyphs" stroke="#2a2a2a" stroke-width="0.18" >hCD45</text>
<path d="M64.3,268.2 L77.6,245.5 Q78.6,244.3 79.8,244.3 L81.6,244.3 L81.6,274.2 L65.8,274.2 Q64.3,274.2 64.3,272.7 Z" fill="none" stroke="#555" stroke-width="0.8"/>
<path d="M136.8,268.2 L149.2,245.7 Q150.2,244.5 151.4,244.5 L153.2,244.5 L153.2,274.2 L138.3,274.2 Q136.8,274.2 136.8,272.7 Z" fill="none" stroke="#555" stroke-width="0.8"/>
<path d="M208.4,267.8 L222.2,245.6 Q223.2,244.4 224.4,244.4 L226.2,244.4 L226.2,273.8 L209.9,273.8 Q208.4,273.8 208.4,272.3 Z" fill="none" stroke="#555" stroke-width="0.8"/>
<text x="74.20" y="281.00" font-size="7.8" text-anchor="middle" fill="#333" font-weight="normal" stroke="#333" stroke-width="0.18" >0,11</text>
<text x="145.50" y="281.00" font-size="7.8" text-anchor="middle" fill="#333" font-weight="normal" stroke="#333" stroke-width="0.18" >0,63</text>
<text x="222.30" y="280.80" font-size="7.8" text-anchor="middle" fill="#333" font-weight="normal" stroke="#333" stroke-width="0.18" >1,01</text>
<defs><filter id="bsoft" x="-10%" y="-10%" width="120%" height="120%"><feGaussianBlur stdDeviation="0.45"/></filter>
<clipPath id="bc0"><path d="M41.20,240.50 C41.72,239.10 42.68,237.85 44.10,236.90 C45.52,235.95 47.95,235.25 49.70,234.80 C51.45,234.35 53.32,233.92 54.60,234.20 C55.88,234.48 56.47,235.48 57.40,236.50 C58.33,237.52 59.23,239.27 60.20,240.30 C61.17,241.33 62.40,242.10 63.20,242.70 C64.00,243.30 64.57,243.40 65.00,243.90 C65.43,244.40 65.78,245.10 65.80,245.70 C65.82,246.30 65.63,246.95 65.10,247.50 C64.57,248.05 63.55,248.62 62.60,249.00 C61.65,249.38 60.47,249.53 59.40,249.80 C58.33,250.07 57.38,250.20 56.20,250.60 C55.02,251.00 53.18,251.47 52.30,252.20 C51.42,252.93 51.20,253.05 50.90,255.00 C50.60,256.95 50.50,261.33 50.50,263.90 C50.50,266.47 51.03,268.58 50.90,270.40 C50.77,272.22 50.37,273.78 49.70,274.80 C49.03,275.82 47.83,276.50 46.90,276.50 C45.97,276.50 44.68,275.82 44.10,274.80 C43.52,273.78 43.40,272.22 43.40,270.40 C43.40,268.58 43.98,266.60 44.10,263.90 C44.22,261.20 44.43,256.48 44.10,254.20 C43.77,251.92 42.62,251.68 42.10,250.20 C41.58,248.72 41.15,246.92 41.00,245.30 C40.85,243.68 40.68,241.90 41.20,240.50 Z"/></clipPath>
<clipPath id="bc1"><path d="M114.30,241.50 C114.90,239.73 116.25,238.65 117.60,237.70 C118.95,236.75 120.87,236.20 122.40,235.80 C123.93,235.40 125.60,235.07 126.80,235.30 C128.00,235.53 128.65,236.40 129.60,237.20 C130.55,238.00 131.13,239.53 132.50,240.10 C133.87,240.67 135.95,240.43 137.80,240.60 C139.65,240.77 142.37,240.77 143.60,241.10 C144.83,241.43 145.28,241.88 145.20,242.60 C145.12,243.32 144.17,244.45 143.10,245.40 C142.03,246.35 140.48,247.50 138.80,248.30 C137.12,249.10 134.93,249.48 133.00,250.20 C131.07,250.92 128.65,251.80 127.20,252.60 C125.75,253.40 124.93,253.48 124.30,255.00 C123.67,256.52 123.55,258.98 123.40,261.70 C123.25,264.42 123.57,268.97 123.40,271.30 C123.23,273.63 123.05,274.73 122.40,275.70 C121.75,276.67 120.45,277.18 119.50,277.10 C118.55,277.02 117.25,276.32 116.70,275.20 C116.15,274.08 116.20,272.65 116.20,270.40 C116.20,268.15 116.78,264.27 116.70,261.70 C116.62,259.13 116.15,257.23 115.70,255.00 C115.25,252.77 114.23,250.55 114.00,248.30 C113.77,246.05 113.70,243.27 114.30,241.50 Z"/></clipPath>
<clipPath id="bc2"><path d="M185.80,241.50 C186.25,239.82 187.27,238.32 188.70,237.20 C190.13,236.08 192.48,235.28 194.40,234.80 C196.32,234.32 198.75,233.98 200.20,234.30 C201.65,234.62 202.13,235.73 203.10,236.70 C204.07,237.67 204.88,239.05 206.00,240.10 C207.12,241.15 208.90,242.18 209.80,243.00 C210.70,243.82 211.57,244.20 211.40,245.00 C211.23,245.80 210.03,246.93 208.80,247.80 C207.57,248.67 205.60,249.48 204.00,250.20 C202.40,250.92 200.48,251.30 199.20,252.10 C197.92,252.90 196.93,253.40 196.30,255.00 C195.67,256.60 195.72,258.98 195.40,261.70 C195.08,264.42 194.72,269.05 194.40,271.30 C194.08,273.55 194.05,274.32 193.50,275.20 C192.95,276.08 191.90,276.68 191.10,276.60 C190.30,276.52 189.18,276.05 188.70,274.70 C188.22,273.35 188.18,271.15 188.20,268.50 C188.22,265.85 188.88,261.22 188.80,258.80 C188.72,256.38 188.17,255.92 187.70,254.00 C187.23,252.08 186.32,249.38 186.00,247.30 C185.68,245.22 185.35,243.18 185.80,241.50 Z"/></clipPath>
</defs>
<g filter="url(#bsoft)">
<path d="M41.20,240.50 C41.72,239.10 42.68,237.85 44.10,236.90 C45.52,235.95 47.95,235.25 49.70,234.80 C51.45,234.35 53.32,233.92 54.60,234.20 C55.88,234.48 56.47,235.48 57.40,236.50 C58.33,237.52 59.23,239.27 60.20,240.30 C61.17,241.33 62.40,242.10 63.20,242.70 C64.00,243.30 64.57,243.40 65.00,243.90 C65.43,244.40 65.78,245.10 65.80,245.70 C65.82,246.30 65.63,246.95 65.10,247.50 C64.57,248.05 63.55,248.62 62.60,249.00 C61.65,249.38 60.47,249.53 59.40,249.80 C58.33,250.07 57.38,250.20 56.20,250.60 C55.02,251.00 53.18,251.47 52.30,252.20 C51.42,252.93 51.20,253.05 50.90,255.00 C50.60,256.95 50.50,261.33 50.50,263.90 C50.50,266.47 51.03,268.58 50.90,270.40 C50.77,272.22 50.37,273.78 49.70,274.80 C49.03,275.82 47.83,276.50 46.90,276.50 C45.97,276.50 44.68,275.82 44.10,274.80 C43.52,273.78 43.40,272.22 43.40,270.40 C43.40,268.58 43.98,266.60 44.10,263.90 C44.22,261.20 44.43,256.48 44.10,254.20 C43.77,251.92 42.62,251.68 42.10,250.20 C41.58,248.72 41.15,246.92 41.00,245.30 C40.85,243.68 40.68,241.90 41.20,240.50 Z" fill="#3a1f9a" stroke="#1e1470" stroke-width="1.0"/>
<g clip-path="url(#bc0)">
<path d="M43.6,249.3 L50.6,249.3 L49.0,274.6 L44.2,274.6 Z" fill="#2a3ab4"/>
<ellipse cx="47.5" cy="245.7" rx="7.0" ry="8.0" fill="#2645c2"/>
<ellipse cx="47.8" cy="245.6" rx="5.0" ry="5.8" fill="#1d9fcb"/>
<ellipse cx="48.1" cy="245.3" rx="3.5" ry="3.9" fill="#2cbf72"/>
<ellipse cx="48.1" cy="245.3" rx="2.2" ry="2.4" fill="#d7d52a"/>
<ellipse cx="48.1" cy="245.3" rx="1.2" ry="1.3" fill="#df6a16"/>
<ellipse cx="46.6" cy="272.6" rx="2.6" ry="3.2" fill="#2a8fc0"/>
<ellipse cx="46.6" cy="272.6" rx="1.4" ry="1.8" fill="#6fae7a"/>
</g></g>
<path d="M41.20,240.50 C41.72,239.10 42.68,237.85 44.10,236.90 C45.52,235.95 47.95,235.25 49.70,234.80 C51.45,234.35 53.32,233.92 54.60,234.20 C55.88,234.48 56.47,235.48 57.40,236.50 C58.33,237.52 59.23,239.27 60.20,240.30 C61.17,241.33 62.40,242.10 63.20,242.70 C64.00,243.30 64.57,243.40 65.00,243.90 C65.43,244.40 65.78,245.10 65.80,245.70 C65.82,246.30 65.63,246.95 65.10,247.50 C64.57,248.05 63.55,248.62 62.60,249.00 C61.65,249.38 60.47,249.53 59.40,249.80 C58.33,250.07 57.38,250.20 56.20,250.60 C55.02,251.00 53.18,251.47 52.30,252.20 C51.42,252.93 51.20,253.05 50.90,255.00 C50.60,256.95 50.50,261.33 50.50,263.90 C50.50,266.47 51.03,268.58 50.90,270.40 C50.77,272.22 50.37,273.78 49.70,274.80 C49.03,275.82 47.83,276.50 46.90,276.50 C45.97,276.50 44.68,275.82 44.10,274.80 C43.52,273.78 43.40,272.22 43.40,270.40 C43.40,268.58 43.98,266.60 44.10,263.90 C44.22,261.20 44.43,256.48 44.10,254.20 C43.77,251.92 42.62,251.68 42.10,250.20 C41.58,248.72 41.15,246.92 41.00,245.30 C40.85,243.68 40.68,241.90 41.20,240.50 Z" fill="none" stroke="#1e1470" stroke-width="0.7"/>
<g filter="url(#bsoft)">
<path d="M114.30,241.50 C114.90,239.73 116.25,238.65 117.60,237.70 C118.95,236.75 120.87,236.20 122.40,235.80 C123.93,235.40 125.60,235.07 126.80,235.30 C128.00,235.53 128.65,236.40 129.60,237.20 C130.55,238.00 131.13,239.53 132.50,240.10 C133.87,240.67 135.95,240.43 137.80,240.60 C139.65,240.77 142.37,240.77 143.60,241.10 C144.83,241.43 145.28,241.88 145.20,242.60 C145.12,243.32 144.17,244.45 143.10,245.40 C142.03,246.35 140.48,247.50 138.80,248.30 C137.12,249.10 134.93,249.48 133.00,250.20 C131.07,250.92 128.65,251.80 127.20,252.60 C125.75,253.40 124.93,253.48 124.30,255.00 C123.67,256.52 123.55,258.98 123.40,261.70 C123.25,264.42 123.57,268.97 123.40,271.30 C123.23,273.63 123.05,274.73 122.40,275.70 C121.75,276.67 120.45,277.18 119.50,277.10 C118.55,277.02 117.25,276.32 116.70,275.20 C116.15,274.08 116.20,272.65 116.20,270.40 C116.20,268.15 116.78,264.27 116.70,261.70 C116.62,259.13 116.15,257.23 115.70,255.00 C115.25,252.77 114.23,250.55 114.00,248.30 C113.77,246.05 113.70,243.27 114.30,241.50 Z" fill="#3a1f9a" stroke="#1e1470" stroke-width="1.0"/>
<g clip-path="url(#bc1)">
<path d="M115.5,250.6 L122.5,250.6 L121.3,274.4 L116.5,274.4 Z" fill="#2a3ab4"/>
<ellipse cx="119.4" cy="247.0" rx="7.0" ry="8.0" fill="#2645c2"/>
<ellipse cx="119.7" cy="246.9" rx="5.0" ry="5.8" fill="#1d9fcb"/>
<ellipse cx="120.0" cy="246.6" rx="3.5" ry="3.9" fill="#2cbf72"/>
<ellipse cx="120.0" cy="246.6" rx="2.2" ry="2.4" fill="#d7d52a"/>
<ellipse cx="120.0" cy="246.6" rx="1.2" ry="1.3" fill="#df6a16"/>
<ellipse cx="118.9" cy="272.4" rx="2.6" ry="3.2" fill="#2a8fc0"/>
<ellipse cx="118.9" cy="272.4" rx="1.4" ry="1.8" fill="#6fae7a"/>
</g></g>
<path d="M114.30,241.50 C114.90,239.73 116.25,238.65 117.60,237.70 C118.95,236.75 120.87,236.20 122.40,235.80 C123.93,235.40 125.60,235.07 126.80,235.30 C128.00,235.53 128.65,236.40 129.60,237.20 C130.55,238.00 131.13,239.53 132.50,240.10 C133.87,240.67 135.95,240.43 137.80,240.60 C139.65,240.77 142.37,240.77 143.60,241.10 C144.83,241.43 145.28,241.88 145.20,242.60 C145.12,243.32 144.17,244.45 143.10,245.40 C142.03,246.35 140.48,247.50 138.80,248.30 C137.12,249.10 134.93,249.48 133.00,250.20 C131.07,250.92 128.65,251.80 127.20,252.60 C125.75,253.40 124.93,253.48 124.30,255.00 C123.67,256.52 123.55,258.98 123.40,261.70 C123.25,264.42 123.57,268.97 123.40,271.30 C123.23,273.63 123.05,274.73 122.40,275.70 C121.75,276.67 120.45,277.18 119.50,277.10 C118.55,277.02 117.25,276.32 116.70,275.20 C116.15,274.08 116.20,272.65 116.20,270.40 C116.20,268.15 116.78,264.27 116.70,261.70 C116.62,259.13 116.15,257.23 115.70,255.00 C115.25,252.77 114.23,250.55 114.00,248.30 C113.77,246.05 113.70,243.27 114.30,241.50 Z" fill="none" stroke="#1e1470" stroke-width="0.7"/>
<g filter="url(#bsoft)">
<path d="M185.80,241.50 C186.25,239.82 187.27,238.32 188.70,237.20 C190.13,236.08 192.48,235.28 194.40,234.80 C196.32,234.32 198.75,233.98 200.20,234.30 C201.65,234.62 202.13,235.73 203.10,236.70 C204.07,237.67 204.88,239.05 206.00,240.10 C207.12,241.15 208.90,242.18 209.80,243.00 C210.70,243.82 211.57,244.20 211.40,245.00 C211.23,245.80 210.03,246.93 208.80,247.80 C207.57,248.67 205.60,249.48 204.00,250.20 C202.40,250.92 200.48,251.30 199.20,252.10 C197.92,252.90 196.93,253.40 196.30,255.00 C195.67,256.60 195.72,258.98 195.40,261.70 C195.08,264.42 194.72,269.05 194.40,271.30 C194.08,273.55 194.05,274.32 193.50,275.20 C192.95,276.08 191.90,276.68 191.10,276.60 C190.30,276.52 189.18,276.05 188.70,274.70 C188.22,273.35 188.18,271.15 188.20,268.50 C188.22,265.85 188.88,261.22 188.80,258.80 C188.72,256.38 188.17,255.92 187.70,254.00 C187.23,252.08 186.32,249.38 186.00,247.30 C185.68,245.22 185.35,243.18 185.80,241.50 Z" fill="#3a1f9a" stroke="#1e1470" stroke-width="1.0"/>
<g clip-path="url(#bc2)">
<path d="M187.9,249.8 L194.9,249.8 L193.1,274.4 L188.3,274.4 Z" fill="#2a3ab4"/>
<ellipse cx="191.8" cy="246.2" rx="7.0" ry="8.0" fill="#2645c2"/>
<ellipse cx="192.1" cy="246.1" rx="5.0" ry="5.8" fill="#1d9fcb"/>
<ellipse cx="192.4" cy="245.8" rx="3.5" ry="3.9" fill="#2cbf72"/>
<ellipse cx="192.4" cy="245.8" rx="2.2" ry="2.4" fill="#d7d52a"/>
<ellipse cx="192.4" cy="245.8" rx="1.2" ry="1.3" fill="#df6a16"/>
<ellipse cx="190.7" cy="272.4" rx="2.6" ry="3.2" fill="#2a8fc0"/>
<ellipse cx="190.7" cy="272.4" rx="1.4" ry="1.8" fill="#6fae7a"/>
</g></g>
<path d="M185.80,241.50 C186.25,239.82 187.27,238.32 188.70,237.20 C190.13,236.08 192.48,235.28 194.40,234.80 C196.32,234.32 198.75,233.98 200.20,234.30 C201.65,234.62 202.13,235.73 203.10,236.70 C204.07,237.67 204.88,239.05 206.00,240.10 C207.12,241.15 208.90,242.18 209.80,243.00 C210.70,243.82 211.57,244.20 211.40,245.00 C211.23,245.80 210.03,246.93 208.80,247.80 C207.57,248.67 205.60,249.48 204.00,250.20 C202.40,250.92 200.48,251.30 199.20,252.10 C197.92,252.90 196.93,253.40 196.30,255.00 C195.67,256.60 195.72,258.98 195.40,261.70 C195.08,264.42 194.72,269.05 194.40,271.30 C194.08,273.55 194.05,274.32 193.50,275.20 C192.95,276.08 191.90,276.68 191.10,276.60 C190.30,276.52 189.18,276.05 188.70,274.70 C188.22,273.35 188.18,271.15 188.20,268.50 C188.22,265.85 188.88,261.22 188.80,258.80 C188.72,256.38 188.17,255.92 187.70,254.00 C187.23,252.08 186.32,249.38 186.00,247.30 C185.68,245.22 185.35,243.18 185.80,241.50 Z" fill="none" stroke="#1e1470" stroke-width="0.7"/>
<ellipse cx="146.5" cy="265.6" rx="1.4" ry="2.8" fill="#2e1f95" stroke="#1e1470" stroke-width="0.5" transform="rotate(18 146.5 265.6)"/>
<ellipse cx="220.4" cy="262.7" rx="2.1" ry="5.2" fill="#2e1f95" stroke="#1e1470" stroke-width="0.5" transform="rotate(15 220.4 262.7)"/>
<rect x="0.5" y="0.5" width="519" height="618" fill="none" stroke="#555" stroke-width="1"/>
</svg></body></html>
